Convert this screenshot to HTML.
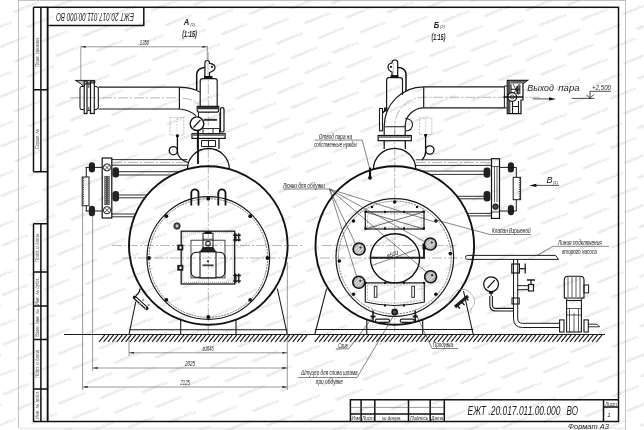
<!DOCTYPE html>
<html><head><meta charset="utf-8">
<style>
html,body{margin:0;padding:0;background:#fff;width:644px;height:430px;overflow:hidden}
svg{display:block;will-change:transform}
#wm text{fill:#d0d0d0;font-style:normal}
.lt text{fill:#555}
.k{fill:none;stroke:#111;stroke-width:1.5}
.m{fill:none;stroke:#1a1a1a;stroke-width:1}
.t{fill:none;stroke:#555;stroke-width:0.6}
.g{fill:none;stroke:#999;stroke-width:0.6}
.c{fill:none;stroke:#888;stroke-width:0.6;stroke-dasharray:10 2 2 2}
.d{fill:none;stroke:#777;stroke-width:0.8;stroke-dasharray:2 1.2}
text{font-family:"Liberation Sans",sans-serif;font-style:italic;fill:#222}
</style></head><body>
<svg width="644" height="430" viewBox="0 0 644 430">
<rect width="644" height="430" fill="#fff"/>
<g id="wm" font-size="4.4">
<text transform="translate(-10.9,410.5) rotate(-22)" text-anchor="middle" textLength="28" lengthAdjust="spacingAndGlyphs">teploobmennik-ka.ru</text>
<text transform="translate(3.1,425.2) rotate(-22)" text-anchor="middle" textLength="28" lengthAdjust="spacingAndGlyphs">teploobmennik-ka.ru</text>
<text transform="translate(17.1,439.9) rotate(-22)" text-anchor="middle" textLength="28" lengthAdjust="spacingAndGlyphs">teploobmennik-ka.ru</text>
<text transform="translate(-11.4,360.9) rotate(-22)" text-anchor="middle" textLength="28" lengthAdjust="spacingAndGlyphs">teploobmennik-ka.ru</text>
<text transform="translate(2.6,375.6) rotate(-22)" text-anchor="middle" textLength="28" lengthAdjust="spacingAndGlyphs">teploobmennik-ka.ru</text>
<text transform="translate(16.6,390.3) rotate(-22)" text-anchor="middle" textLength="28" lengthAdjust="spacingAndGlyphs">teploobmennik-ka.ru</text>
<text transform="translate(30.6,405.0) rotate(-22)" text-anchor="middle" textLength="28" lengthAdjust="spacingAndGlyphs">teploobmennik-ka.ru</text>
<text transform="translate(44.6,419.7) rotate(-22)" text-anchor="middle" textLength="28" lengthAdjust="spacingAndGlyphs">teploobmennik-ka.ru</text>
<text transform="translate(58.6,434.4) rotate(-22)" text-anchor="middle" textLength="28" lengthAdjust="spacingAndGlyphs">teploobmennik-ka.ru</text>
<text transform="translate(-11.9,311.3) rotate(-22)" text-anchor="middle" textLength="28" lengthAdjust="spacingAndGlyphs">teploobmennik-ka.ru</text>
<text transform="translate(2.1,326.0) rotate(-22)" text-anchor="middle" textLength="28" lengthAdjust="spacingAndGlyphs">teploobmennik-ka.ru</text>
<text transform="translate(16.1,340.7) rotate(-22)" text-anchor="middle" textLength="28" lengthAdjust="spacingAndGlyphs">teploobmennik-ka.ru</text>
<text transform="translate(30.1,355.4) rotate(-22)" text-anchor="middle" textLength="28" lengthAdjust="spacingAndGlyphs">teploobmennik-ka.ru</text>
<text transform="translate(44.1,370.1) rotate(-22)" text-anchor="middle" textLength="28" lengthAdjust="spacingAndGlyphs">teploobmennik-ka.ru</text>
<text transform="translate(58.1,384.8) rotate(-22)" text-anchor="middle" textLength="28" lengthAdjust="spacingAndGlyphs">teploobmennik-ka.ru</text>
<text transform="translate(72.1,399.5) rotate(-22)" text-anchor="middle" textLength="28" lengthAdjust="spacingAndGlyphs">teploobmennik-ka.ru</text>
<text transform="translate(86.1,414.2) rotate(-22)" text-anchor="middle" textLength="28" lengthAdjust="spacingAndGlyphs">teploobmennik-ka.ru</text>
<text transform="translate(100.1,428.9) rotate(-22)" text-anchor="middle" textLength="28" lengthAdjust="spacingAndGlyphs">teploobmennik-ka.ru</text>
<text transform="translate(-12.4,261.7) rotate(-22)" text-anchor="middle" textLength="28" lengthAdjust="spacingAndGlyphs">teploobmennik-ka.ru</text>
<text transform="translate(1.6,276.4) rotate(-22)" text-anchor="middle" textLength="28" lengthAdjust="spacingAndGlyphs">teploobmennik-ka.ru</text>
<text transform="translate(15.6,291.1) rotate(-22)" text-anchor="middle" textLength="28" lengthAdjust="spacingAndGlyphs">teploobmennik-ka.ru</text>
<text transform="translate(29.6,305.8) rotate(-22)" text-anchor="middle" textLength="28" lengthAdjust="spacingAndGlyphs">teploobmennik-ka.ru</text>
<text transform="translate(43.6,320.5) rotate(-22)" text-anchor="middle" textLength="28" lengthAdjust="spacingAndGlyphs">teploobmennik-ka.ru</text>
<text transform="translate(57.6,335.2) rotate(-22)" text-anchor="middle" textLength="28" lengthAdjust="spacingAndGlyphs">teploobmennik-ka.ru</text>
<text transform="translate(71.6,349.9) rotate(-22)" text-anchor="middle" textLength="28" lengthAdjust="spacingAndGlyphs">teploobmennik-ka.ru</text>
<text transform="translate(85.6,364.6) rotate(-22)" text-anchor="middle" textLength="28" lengthAdjust="spacingAndGlyphs">teploobmennik-ka.ru</text>
<text transform="translate(99.6,379.3) rotate(-22)" text-anchor="middle" textLength="28" lengthAdjust="spacingAndGlyphs">teploobmennik-ka.ru</text>
<text transform="translate(113.6,394.0) rotate(-22)" text-anchor="middle" textLength="28" lengthAdjust="spacingAndGlyphs">teploobmennik-ka.ru</text>
<text transform="translate(127.6,408.7) rotate(-22)" text-anchor="middle" textLength="28" lengthAdjust="spacingAndGlyphs">teploobmennik-ka.ru</text>
<text transform="translate(141.6,423.4) rotate(-22)" text-anchor="middle" textLength="28" lengthAdjust="spacingAndGlyphs">teploobmennik-ka.ru</text>
<text transform="translate(155.6,438.1) rotate(-22)" text-anchor="middle" textLength="28" lengthAdjust="spacingAndGlyphs">teploobmennik-ka.ru</text>
<text transform="translate(-12.9,212.1) rotate(-22)" text-anchor="middle" textLength="28" lengthAdjust="spacingAndGlyphs">teploobmennik-ka.ru</text>
<text transform="translate(1.1,226.8) rotate(-22)" text-anchor="middle" textLength="28" lengthAdjust="spacingAndGlyphs">teploobmennik-ka.ru</text>
<text transform="translate(15.1,241.5) rotate(-22)" text-anchor="middle" textLength="28" lengthAdjust="spacingAndGlyphs">teploobmennik-ka.ru</text>
<text transform="translate(29.1,256.2) rotate(-22)" text-anchor="middle" textLength="28" lengthAdjust="spacingAndGlyphs">teploobmennik-ka.ru</text>
<text transform="translate(43.1,270.9) rotate(-22)" text-anchor="middle" textLength="28" lengthAdjust="spacingAndGlyphs">teploobmennik-ka.ru</text>
<text transform="translate(57.1,285.6) rotate(-22)" text-anchor="middle" textLength="28" lengthAdjust="spacingAndGlyphs">teploobmennik-ka.ru</text>
<text transform="translate(71.1,300.3) rotate(-22)" text-anchor="middle" textLength="28" lengthAdjust="spacingAndGlyphs">teploobmennik-ka.ru</text>
<text transform="translate(85.1,315.0) rotate(-22)" text-anchor="middle" textLength="28" lengthAdjust="spacingAndGlyphs">teploobmennik-ka.ru</text>
<text transform="translate(99.1,329.7) rotate(-22)" text-anchor="middle" textLength="28" lengthAdjust="spacingAndGlyphs">teploobmennik-ka.ru</text>
<text transform="translate(113.1,344.4) rotate(-22)" text-anchor="middle" textLength="28" lengthAdjust="spacingAndGlyphs">teploobmennik-ka.ru</text>
<text transform="translate(127.1,359.1) rotate(-22)" text-anchor="middle" textLength="28" lengthAdjust="spacingAndGlyphs">teploobmennik-ka.ru</text>
<text transform="translate(141.1,373.8) rotate(-22)" text-anchor="middle" textLength="28" lengthAdjust="spacingAndGlyphs">teploobmennik-ka.ru</text>
<text transform="translate(155.1,388.5) rotate(-22)" text-anchor="middle" textLength="28" lengthAdjust="spacingAndGlyphs">teploobmennik-ka.ru</text>
<text transform="translate(169.1,403.2) rotate(-22)" text-anchor="middle" textLength="28" lengthAdjust="spacingAndGlyphs">teploobmennik-ka.ru</text>
<text transform="translate(183.1,417.9) rotate(-22)" text-anchor="middle" textLength="28" lengthAdjust="spacingAndGlyphs">teploobmennik-ka.ru</text>
<text transform="translate(197.1,432.6) rotate(-22)" text-anchor="middle" textLength="28" lengthAdjust="spacingAndGlyphs">teploobmennik-ka.ru</text>
<text transform="translate(-13.4,162.5) rotate(-22)" text-anchor="middle" textLength="28" lengthAdjust="spacingAndGlyphs">teploobmennik-ka.ru</text>
<text transform="translate(0.6,177.2) rotate(-22)" text-anchor="middle" textLength="28" lengthAdjust="spacingAndGlyphs">teploobmennik-ka.ru</text>
<text transform="translate(14.6,191.9) rotate(-22)" text-anchor="middle" textLength="28" lengthAdjust="spacingAndGlyphs">teploobmennik-ka.ru</text>
<text transform="translate(28.6,206.6) rotate(-22)" text-anchor="middle" textLength="28" lengthAdjust="spacingAndGlyphs">teploobmennik-ka.ru</text>
<text transform="translate(42.6,221.3) rotate(-22)" text-anchor="middle" textLength="28" lengthAdjust="spacingAndGlyphs">teploobmennik-ka.ru</text>
<text transform="translate(56.6,236.0) rotate(-22)" text-anchor="middle" textLength="28" lengthAdjust="spacingAndGlyphs">teploobmennik-ka.ru</text>
<text transform="translate(70.6,250.7) rotate(-22)" text-anchor="middle" textLength="28" lengthAdjust="spacingAndGlyphs">teploobmennik-ka.ru</text>
<text transform="translate(84.6,265.4) rotate(-22)" text-anchor="middle" textLength="28" lengthAdjust="spacingAndGlyphs">teploobmennik-ka.ru</text>
<text transform="translate(98.6,280.1) rotate(-22)" text-anchor="middle" textLength="28" lengthAdjust="spacingAndGlyphs">teploobmennik-ka.ru</text>
<text transform="translate(112.6,294.8) rotate(-22)" text-anchor="middle" textLength="28" lengthAdjust="spacingAndGlyphs">teploobmennik-ka.ru</text>
<text transform="translate(126.6,309.5) rotate(-22)" text-anchor="middle" textLength="28" lengthAdjust="spacingAndGlyphs">teploobmennik-ka.ru</text>
<text transform="translate(140.6,324.2) rotate(-22)" text-anchor="middle" textLength="28" lengthAdjust="spacingAndGlyphs">teploobmennik-ka.ru</text>
<text transform="translate(154.6,338.9) rotate(-22)" text-anchor="middle" textLength="28" lengthAdjust="spacingAndGlyphs">teploobmennik-ka.ru</text>
<text transform="translate(168.6,353.6) rotate(-22)" text-anchor="middle" textLength="28" lengthAdjust="spacingAndGlyphs">teploobmennik-ka.ru</text>
<text transform="translate(182.6,368.3) rotate(-22)" text-anchor="middle" textLength="28" lengthAdjust="spacingAndGlyphs">teploobmennik-ka.ru</text>
<text transform="translate(196.6,383.0) rotate(-22)" text-anchor="middle" textLength="28" lengthAdjust="spacingAndGlyphs">teploobmennik-ka.ru</text>
<text transform="translate(210.6,397.7) rotate(-22)" text-anchor="middle" textLength="28" lengthAdjust="spacingAndGlyphs">teploobmennik-ka.ru</text>
<text transform="translate(224.6,412.4) rotate(-22)" text-anchor="middle" textLength="28" lengthAdjust="spacingAndGlyphs">teploobmennik-ka.ru</text>
<text transform="translate(238.6,427.1) rotate(-22)" text-anchor="middle" textLength="28" lengthAdjust="spacingAndGlyphs">teploobmennik-ka.ru</text>
<text transform="translate(-13.9,112.9) rotate(-22)" text-anchor="middle" textLength="28" lengthAdjust="spacingAndGlyphs">teploobmennik-ka.ru</text>
<text transform="translate(0.1,127.6) rotate(-22)" text-anchor="middle" textLength="28" lengthAdjust="spacingAndGlyphs">teploobmennik-ka.ru</text>
<text transform="translate(14.1,142.3) rotate(-22)" text-anchor="middle" textLength="28" lengthAdjust="spacingAndGlyphs">teploobmennik-ka.ru</text>
<text transform="translate(28.1,157.0) rotate(-22)" text-anchor="middle" textLength="28" lengthAdjust="spacingAndGlyphs">teploobmennik-ka.ru</text>
<text transform="translate(42.1,171.7) rotate(-22)" text-anchor="middle" textLength="28" lengthAdjust="spacingAndGlyphs">teploobmennik-ka.ru</text>
<text transform="translate(56.1,186.4) rotate(-22)" text-anchor="middle" textLength="28" lengthAdjust="spacingAndGlyphs">teploobmennik-ka.ru</text>
<text transform="translate(70.1,201.1) rotate(-22)" text-anchor="middle" textLength="28" lengthAdjust="spacingAndGlyphs">teploobmennik-ka.ru</text>
<text transform="translate(84.1,215.8) rotate(-22)" text-anchor="middle" textLength="28" lengthAdjust="spacingAndGlyphs">teploobmennik-ka.ru</text>
<text transform="translate(98.1,230.5) rotate(-22)" text-anchor="middle" textLength="28" lengthAdjust="spacingAndGlyphs">teploobmennik-ka.ru</text>
<text transform="translate(112.1,245.2) rotate(-22)" text-anchor="middle" textLength="28" lengthAdjust="spacingAndGlyphs">teploobmennik-ka.ru</text>
<text transform="translate(126.1,259.9) rotate(-22)" text-anchor="middle" textLength="28" lengthAdjust="spacingAndGlyphs">teploobmennik-ka.ru</text>
<text transform="translate(140.1,274.6) rotate(-22)" text-anchor="middle" textLength="28" lengthAdjust="spacingAndGlyphs">teploobmennik-ka.ru</text>
<text transform="translate(154.1,289.3) rotate(-22)" text-anchor="middle" textLength="28" lengthAdjust="spacingAndGlyphs">teploobmennik-ka.ru</text>
<text transform="translate(168.1,304.0) rotate(-22)" text-anchor="middle" textLength="28" lengthAdjust="spacingAndGlyphs">teploobmennik-ka.ru</text>
<text transform="translate(182.1,318.7) rotate(-22)" text-anchor="middle" textLength="28" lengthAdjust="spacingAndGlyphs">teploobmennik-ka.ru</text>
<text transform="translate(196.1,333.4) rotate(-22)" text-anchor="middle" textLength="28" lengthAdjust="spacingAndGlyphs">teploobmennik-ka.ru</text>
<text transform="translate(210.1,348.1) rotate(-22)" text-anchor="middle" textLength="28" lengthAdjust="spacingAndGlyphs">teploobmennik-ka.ru</text>
<text transform="translate(224.1,362.8) rotate(-22)" text-anchor="middle" textLength="28" lengthAdjust="spacingAndGlyphs">teploobmennik-ka.ru</text>
<text transform="translate(238.1,377.5) rotate(-22)" text-anchor="middle" textLength="28" lengthAdjust="spacingAndGlyphs">teploobmennik-ka.ru</text>
<text transform="translate(252.1,392.2) rotate(-22)" text-anchor="middle" textLength="28" lengthAdjust="spacingAndGlyphs">teploobmennik-ka.ru</text>
<text transform="translate(266.1,406.9) rotate(-22)" text-anchor="middle" textLength="28" lengthAdjust="spacingAndGlyphs">teploobmennik-ka.ru</text>
<text transform="translate(280.1,421.6) rotate(-22)" text-anchor="middle" textLength="28" lengthAdjust="spacingAndGlyphs">teploobmennik-ka.ru</text>
<text transform="translate(294.1,436.3) rotate(-22)" text-anchor="middle" textLength="28" lengthAdjust="spacingAndGlyphs">teploobmennik-ka.ru</text>
<text transform="translate(-14.4,63.3) rotate(-22)" text-anchor="middle" textLength="28" lengthAdjust="spacingAndGlyphs">teploobmennik-ka.ru</text>
<text transform="translate(-0.4,78.0) rotate(-22)" text-anchor="middle" textLength="28" lengthAdjust="spacingAndGlyphs">teploobmennik-ka.ru</text>
<text transform="translate(13.6,92.7) rotate(-22)" text-anchor="middle" textLength="28" lengthAdjust="spacingAndGlyphs">teploobmennik-ka.ru</text>
<text transform="translate(27.6,107.4) rotate(-22)" text-anchor="middle" textLength="28" lengthAdjust="spacingAndGlyphs">teploobmennik-ka.ru</text>
<text transform="translate(41.6,122.1) rotate(-22)" text-anchor="middle" textLength="28" lengthAdjust="spacingAndGlyphs">teploobmennik-ka.ru</text>
<text transform="translate(55.6,136.8) rotate(-22)" text-anchor="middle" textLength="28" lengthAdjust="spacingAndGlyphs">teploobmennik-ka.ru</text>
<text transform="translate(69.6,151.5) rotate(-22)" text-anchor="middle" textLength="28" lengthAdjust="spacingAndGlyphs">teploobmennik-ka.ru</text>
<text transform="translate(83.6,166.2) rotate(-22)" text-anchor="middle" textLength="28" lengthAdjust="spacingAndGlyphs">teploobmennik-ka.ru</text>
<text transform="translate(97.6,180.9) rotate(-22)" text-anchor="middle" textLength="28" lengthAdjust="spacingAndGlyphs">teploobmennik-ka.ru</text>
<text transform="translate(111.6,195.6) rotate(-22)" text-anchor="middle" textLength="28" lengthAdjust="spacingAndGlyphs">teploobmennik-ka.ru</text>
<text transform="translate(125.6,210.3) rotate(-22)" text-anchor="middle" textLength="28" lengthAdjust="spacingAndGlyphs">teploobmennik-ka.ru</text>
<text transform="translate(139.6,225.0) rotate(-22)" text-anchor="middle" textLength="28" lengthAdjust="spacingAndGlyphs">teploobmennik-ka.ru</text>
<text transform="translate(153.6,239.7) rotate(-22)" text-anchor="middle" textLength="28" lengthAdjust="spacingAndGlyphs">teploobmennik-ka.ru</text>
<text transform="translate(167.6,254.4) rotate(-22)" text-anchor="middle" textLength="28" lengthAdjust="spacingAndGlyphs">teploobmennik-ka.ru</text>
<text transform="translate(181.6,269.1) rotate(-22)" text-anchor="middle" textLength="28" lengthAdjust="spacingAndGlyphs">teploobmennik-ka.ru</text>
<text transform="translate(195.6,283.8) rotate(-22)" text-anchor="middle" textLength="28" lengthAdjust="spacingAndGlyphs">teploobmennik-ka.ru</text>
<text transform="translate(209.6,298.5) rotate(-22)" text-anchor="middle" textLength="28" lengthAdjust="spacingAndGlyphs">teploobmennik-ka.ru</text>
<text transform="translate(223.6,313.2) rotate(-22)" text-anchor="middle" textLength="28" lengthAdjust="spacingAndGlyphs">teploobmennik-ka.ru</text>
<text transform="translate(237.6,327.9) rotate(-22)" text-anchor="middle" textLength="28" lengthAdjust="spacingAndGlyphs">teploobmennik-ka.ru</text>
<text transform="translate(251.6,342.6) rotate(-22)" text-anchor="middle" textLength="28" lengthAdjust="spacingAndGlyphs">teploobmennik-ka.ru</text>
<text transform="translate(265.6,357.3) rotate(-22)" text-anchor="middle" textLength="28" lengthAdjust="spacingAndGlyphs">teploobmennik-ka.ru</text>
<text transform="translate(279.6,372.0) rotate(-22)" text-anchor="middle" textLength="28" lengthAdjust="spacingAndGlyphs">teploobmennik-ka.ru</text>
<text transform="translate(293.6,386.7) rotate(-22)" text-anchor="middle" textLength="28" lengthAdjust="spacingAndGlyphs">teploobmennik-ka.ru</text>
<text transform="translate(307.6,401.4) rotate(-22)" text-anchor="middle" textLength="28" lengthAdjust="spacingAndGlyphs">teploobmennik-ka.ru</text>
<text transform="translate(321.6,416.1) rotate(-22)" text-anchor="middle" textLength="28" lengthAdjust="spacingAndGlyphs">teploobmennik-ka.ru</text>
<text transform="translate(335.6,430.8) rotate(-22)" text-anchor="middle" textLength="28" lengthAdjust="spacingAndGlyphs">teploobmennik-ka.ru</text>
<text transform="translate(-14.9,13.7) rotate(-22)" text-anchor="middle" textLength="28" lengthAdjust="spacingAndGlyphs">teploobmennik-ka.ru</text>
<text transform="translate(-0.9,28.4) rotate(-22)" text-anchor="middle" textLength="28" lengthAdjust="spacingAndGlyphs">teploobmennik-ka.ru</text>
<text transform="translate(13.1,43.1) rotate(-22)" text-anchor="middle" textLength="28" lengthAdjust="spacingAndGlyphs">teploobmennik-ka.ru</text>
<text transform="translate(27.1,57.8) rotate(-22)" text-anchor="middle" textLength="28" lengthAdjust="spacingAndGlyphs">teploobmennik-ka.ru</text>
<text transform="translate(41.1,72.5) rotate(-22)" text-anchor="middle" textLength="28" lengthAdjust="spacingAndGlyphs">teploobmennik-ka.ru</text>
<text transform="translate(55.1,87.2) rotate(-22)" text-anchor="middle" textLength="28" lengthAdjust="spacingAndGlyphs">teploobmennik-ka.ru</text>
<text transform="translate(69.1,101.9) rotate(-22)" text-anchor="middle" textLength="28" lengthAdjust="spacingAndGlyphs">teploobmennik-ka.ru</text>
<text transform="translate(83.1,116.6) rotate(-22)" text-anchor="middle" textLength="28" lengthAdjust="spacingAndGlyphs">teploobmennik-ka.ru</text>
<text transform="translate(97.1,131.3) rotate(-22)" text-anchor="middle" textLength="28" lengthAdjust="spacingAndGlyphs">teploobmennik-ka.ru</text>
<text transform="translate(111.1,146.0) rotate(-22)" text-anchor="middle" textLength="28" lengthAdjust="spacingAndGlyphs">teploobmennik-ka.ru</text>
<text transform="translate(125.1,160.7) rotate(-22)" text-anchor="middle" textLength="28" lengthAdjust="spacingAndGlyphs">teploobmennik-ka.ru</text>
<text transform="translate(139.1,175.4) rotate(-22)" text-anchor="middle" textLength="28" lengthAdjust="spacingAndGlyphs">teploobmennik-ka.ru</text>
<text transform="translate(153.1,190.1) rotate(-22)" text-anchor="middle" textLength="28" lengthAdjust="spacingAndGlyphs">teploobmennik-ka.ru</text>
<text transform="translate(167.1,204.8) rotate(-22)" text-anchor="middle" textLength="28" lengthAdjust="spacingAndGlyphs">teploobmennik-ka.ru</text>
<text transform="translate(181.1,219.5) rotate(-22)" text-anchor="middle" textLength="28" lengthAdjust="spacingAndGlyphs">teploobmennik-ka.ru</text>
<text transform="translate(195.1,234.2) rotate(-22)" text-anchor="middle" textLength="28" lengthAdjust="spacingAndGlyphs">teploobmennik-ka.ru</text>
<text transform="translate(209.1,248.9) rotate(-22)" text-anchor="middle" textLength="28" lengthAdjust="spacingAndGlyphs">teploobmennik-ka.ru</text>
<text transform="translate(223.1,263.6) rotate(-22)" text-anchor="middle" textLength="28" lengthAdjust="spacingAndGlyphs">teploobmennik-ka.ru</text>
<text transform="translate(237.1,278.3) rotate(-22)" text-anchor="middle" textLength="28" lengthAdjust="spacingAndGlyphs">teploobmennik-ka.ru</text>
<text transform="translate(251.1,293.0) rotate(-22)" text-anchor="middle" textLength="28" lengthAdjust="spacingAndGlyphs">teploobmennik-ka.ru</text>
<text transform="translate(265.1,307.7) rotate(-22)" text-anchor="middle" textLength="28" lengthAdjust="spacingAndGlyphs">teploobmennik-ka.ru</text>
<text transform="translate(279.1,322.4) rotate(-22)" text-anchor="middle" textLength="28" lengthAdjust="spacingAndGlyphs">teploobmennik-ka.ru</text>
<text transform="translate(293.1,337.1) rotate(-22)" text-anchor="middle" textLength="28" lengthAdjust="spacingAndGlyphs">teploobmennik-ka.ru</text>
<text transform="translate(307.1,351.8) rotate(-22)" text-anchor="middle" textLength="28" lengthAdjust="spacingAndGlyphs">teploobmennik-ka.ru</text>
<text transform="translate(321.1,366.5) rotate(-22)" text-anchor="middle" textLength="28" lengthAdjust="spacingAndGlyphs">teploobmennik-ka.ru</text>
<text transform="translate(335.1,381.2) rotate(-22)" text-anchor="middle" textLength="28" lengthAdjust="spacingAndGlyphs">teploobmennik-ka.ru</text>
<text transform="translate(349.1,395.9) rotate(-22)" text-anchor="middle" textLength="28" lengthAdjust="spacingAndGlyphs">teploobmennik-ka.ru</text>
<text transform="translate(363.1,410.6) rotate(-22)" text-anchor="middle" textLength="28" lengthAdjust="spacingAndGlyphs">teploobmennik-ka.ru</text>
<text transform="translate(377.1,425.3) rotate(-22)" text-anchor="middle" textLength="28" lengthAdjust="spacingAndGlyphs">teploobmennik-ka.ru</text>
<text transform="translate(391.1,440.0) rotate(-22)" text-anchor="middle" textLength="28" lengthAdjust="spacingAndGlyphs">teploobmennik-ka.ru</text>
<text transform="translate(12.6,-6.5) rotate(-22)" text-anchor="middle" textLength="28" lengthAdjust="spacingAndGlyphs">teploobmennik-ka.ru</text>
<text transform="translate(26.6,8.2) rotate(-22)" text-anchor="middle" textLength="28" lengthAdjust="spacingAndGlyphs">teploobmennik-ka.ru</text>
<text transform="translate(40.6,22.9) rotate(-22)" text-anchor="middle" textLength="28" lengthAdjust="spacingAndGlyphs">teploobmennik-ka.ru</text>
<text transform="translate(54.6,37.6) rotate(-22)" text-anchor="middle" textLength="28" lengthAdjust="spacingAndGlyphs">teploobmennik-ka.ru</text>
<text transform="translate(68.6,52.3) rotate(-22)" text-anchor="middle" textLength="28" lengthAdjust="spacingAndGlyphs">teploobmennik-ka.ru</text>
<text transform="translate(82.6,67.0) rotate(-22)" text-anchor="middle" textLength="28" lengthAdjust="spacingAndGlyphs">teploobmennik-ka.ru</text>
<text transform="translate(96.6,81.7) rotate(-22)" text-anchor="middle" textLength="28" lengthAdjust="spacingAndGlyphs">teploobmennik-ka.ru</text>
<text transform="translate(110.6,96.4) rotate(-22)" text-anchor="middle" textLength="28" lengthAdjust="spacingAndGlyphs">teploobmennik-ka.ru</text>
<text transform="translate(124.6,111.1) rotate(-22)" text-anchor="middle" textLength="28" lengthAdjust="spacingAndGlyphs">teploobmennik-ka.ru</text>
<text transform="translate(138.6,125.8) rotate(-22)" text-anchor="middle" textLength="28" lengthAdjust="spacingAndGlyphs">teploobmennik-ka.ru</text>
<text transform="translate(152.6,140.5) rotate(-22)" text-anchor="middle" textLength="28" lengthAdjust="spacingAndGlyphs">teploobmennik-ka.ru</text>
<text transform="translate(166.6,155.2) rotate(-22)" text-anchor="middle" textLength="28" lengthAdjust="spacingAndGlyphs">teploobmennik-ka.ru</text>
<text transform="translate(180.6,169.9) rotate(-22)" text-anchor="middle" textLength="28" lengthAdjust="spacingAndGlyphs">teploobmennik-ka.ru</text>
<text transform="translate(194.6,184.6) rotate(-22)" text-anchor="middle" textLength="28" lengthAdjust="spacingAndGlyphs">teploobmennik-ka.ru</text>
<text transform="translate(208.6,199.3) rotate(-22)" text-anchor="middle" textLength="28" lengthAdjust="spacingAndGlyphs">teploobmennik-ka.ru</text>
<text transform="translate(222.6,214.0) rotate(-22)" text-anchor="middle" textLength="28" lengthAdjust="spacingAndGlyphs">teploobmennik-ka.ru</text>
<text transform="translate(236.6,228.7) rotate(-22)" text-anchor="middle" textLength="28" lengthAdjust="spacingAndGlyphs">teploobmennik-ka.ru</text>
<text transform="translate(250.6,243.4) rotate(-22)" text-anchor="middle" textLength="28" lengthAdjust="spacingAndGlyphs">teploobmennik-ka.ru</text>
<text transform="translate(264.6,258.1) rotate(-22)" text-anchor="middle" textLength="28" lengthAdjust="spacingAndGlyphs">teploobmennik-ka.ru</text>
<text transform="translate(278.6,272.8) rotate(-22)" text-anchor="middle" textLength="28" lengthAdjust="spacingAndGlyphs">teploobmennik-ka.ru</text>
<text transform="translate(292.6,287.5) rotate(-22)" text-anchor="middle" textLength="28" lengthAdjust="spacingAndGlyphs">teploobmennik-ka.ru</text>
<text transform="translate(306.6,302.2) rotate(-22)" text-anchor="middle" textLength="28" lengthAdjust="spacingAndGlyphs">teploobmennik-ka.ru</text>
<text transform="translate(320.6,316.9) rotate(-22)" text-anchor="middle" textLength="28" lengthAdjust="spacingAndGlyphs">teploobmennik-ka.ru</text>
<text transform="translate(334.6,331.6) rotate(-22)" text-anchor="middle" textLength="28" lengthAdjust="spacingAndGlyphs">teploobmennik-ka.ru</text>
<text transform="translate(348.6,346.3) rotate(-22)" text-anchor="middle" textLength="28" lengthAdjust="spacingAndGlyphs">teploobmennik-ka.ru</text>
<text transform="translate(362.6,361.0) rotate(-22)" text-anchor="middle" textLength="28" lengthAdjust="spacingAndGlyphs">teploobmennik-ka.ru</text>
<text transform="translate(376.6,375.7) rotate(-22)" text-anchor="middle" textLength="28" lengthAdjust="spacingAndGlyphs">teploobmennik-ka.ru</text>
<text transform="translate(390.6,390.4) rotate(-22)" text-anchor="middle" textLength="28" lengthAdjust="spacingAndGlyphs">teploobmennik-ka.ru</text>
<text transform="translate(404.6,405.1) rotate(-22)" text-anchor="middle" textLength="28" lengthAdjust="spacingAndGlyphs">teploobmennik-ka.ru</text>
<text transform="translate(418.6,419.8) rotate(-22)" text-anchor="middle" textLength="28" lengthAdjust="spacingAndGlyphs">teploobmennik-ka.ru</text>
<text transform="translate(432.6,434.5) rotate(-22)" text-anchor="middle" textLength="28" lengthAdjust="spacingAndGlyphs">teploobmennik-ka.ru</text>
<text transform="translate(68.1,2.7) rotate(-22)" text-anchor="middle" textLength="28" lengthAdjust="spacingAndGlyphs">teploobmennik-ka.ru</text>
<text transform="translate(82.1,17.4) rotate(-22)" text-anchor="middle" textLength="28" lengthAdjust="spacingAndGlyphs">teploobmennik-ka.ru</text>
<text transform="translate(96.1,32.1) rotate(-22)" text-anchor="middle" textLength="28" lengthAdjust="spacingAndGlyphs">teploobmennik-ka.ru</text>
<text transform="translate(110.1,46.8) rotate(-22)" text-anchor="middle" textLength="28" lengthAdjust="spacingAndGlyphs">teploobmennik-ka.ru</text>
<text transform="translate(124.1,61.5) rotate(-22)" text-anchor="middle" textLength="28" lengthAdjust="spacingAndGlyphs">teploobmennik-ka.ru</text>
<text transform="translate(138.1,76.2) rotate(-22)" text-anchor="middle" textLength="28" lengthAdjust="spacingAndGlyphs">teploobmennik-ka.ru</text>
<text transform="translate(152.1,90.9) rotate(-22)" text-anchor="middle" textLength="28" lengthAdjust="spacingAndGlyphs">teploobmennik-ka.ru</text>
<text transform="translate(166.1,105.6) rotate(-22)" text-anchor="middle" textLength="28" lengthAdjust="spacingAndGlyphs">teploobmennik-ka.ru</text>
<text transform="translate(180.1,120.3) rotate(-22)" text-anchor="middle" textLength="28" lengthAdjust="spacingAndGlyphs">teploobmennik-ka.ru</text>
<text transform="translate(194.1,135.0) rotate(-22)" text-anchor="middle" textLength="28" lengthAdjust="spacingAndGlyphs">teploobmennik-ka.ru</text>
<text transform="translate(208.1,149.7) rotate(-22)" text-anchor="middle" textLength="28" lengthAdjust="spacingAndGlyphs">teploobmennik-ka.ru</text>
<text transform="translate(222.1,164.4) rotate(-22)" text-anchor="middle" textLength="28" lengthAdjust="spacingAndGlyphs">teploobmennik-ka.ru</text>
<text transform="translate(236.1,179.1) rotate(-22)" text-anchor="middle" textLength="28" lengthAdjust="spacingAndGlyphs">teploobmennik-ka.ru</text>
<text transform="translate(250.1,193.8) rotate(-22)" text-anchor="middle" textLength="28" lengthAdjust="spacingAndGlyphs">teploobmennik-ka.ru</text>
<text transform="translate(264.1,208.5) rotate(-22)" text-anchor="middle" textLength="28" lengthAdjust="spacingAndGlyphs">teploobmennik-ka.ru</text>
<text transform="translate(278.1,223.2) rotate(-22)" text-anchor="middle" textLength="28" lengthAdjust="spacingAndGlyphs">teploobmennik-ka.ru</text>
<text transform="translate(292.1,237.9) rotate(-22)" text-anchor="middle" textLength="28" lengthAdjust="spacingAndGlyphs">teploobmennik-ka.ru</text>
<text transform="translate(306.1,252.6) rotate(-22)" text-anchor="middle" textLength="28" lengthAdjust="spacingAndGlyphs">teploobmennik-ka.ru</text>
<text transform="translate(320.1,267.3) rotate(-22)" text-anchor="middle" textLength="28" lengthAdjust="spacingAndGlyphs">teploobmennik-ka.ru</text>
<text transform="translate(334.1,282.0) rotate(-22)" text-anchor="middle" textLength="28" lengthAdjust="spacingAndGlyphs">teploobmennik-ka.ru</text>
<text transform="translate(348.1,296.7) rotate(-22)" text-anchor="middle" textLength="28" lengthAdjust="spacingAndGlyphs">teploobmennik-ka.ru</text>
<text transform="translate(362.1,311.4) rotate(-22)" text-anchor="middle" textLength="28" lengthAdjust="spacingAndGlyphs">teploobmennik-ka.ru</text>
<text transform="translate(376.1,326.1) rotate(-22)" text-anchor="middle" textLength="28" lengthAdjust="spacingAndGlyphs">teploobmennik-ka.ru</text>
<text transform="translate(390.1,340.8) rotate(-22)" text-anchor="middle" textLength="28" lengthAdjust="spacingAndGlyphs">teploobmennik-ka.ru</text>
<text transform="translate(404.1,355.5) rotate(-22)" text-anchor="middle" textLength="28" lengthAdjust="spacingAndGlyphs">teploobmennik-ka.ru</text>
<text transform="translate(418.1,370.2) rotate(-22)" text-anchor="middle" textLength="28" lengthAdjust="spacingAndGlyphs">teploobmennik-ka.ru</text>
<text transform="translate(432.1,384.9) rotate(-22)" text-anchor="middle" textLength="28" lengthAdjust="spacingAndGlyphs">teploobmennik-ka.ru</text>
<text transform="translate(446.1,399.6) rotate(-22)" text-anchor="middle" textLength="28" lengthAdjust="spacingAndGlyphs">teploobmennik-ka.ru</text>
<text transform="translate(460.1,414.3) rotate(-22)" text-anchor="middle" textLength="28" lengthAdjust="spacingAndGlyphs">teploobmennik-ka.ru</text>
<text transform="translate(474.1,429.0) rotate(-22)" text-anchor="middle" textLength="28" lengthAdjust="spacingAndGlyphs">teploobmennik-ka.ru</text>
<text transform="translate(109.6,-2.8) rotate(-22)" text-anchor="middle" textLength="28" lengthAdjust="spacingAndGlyphs">teploobmennik-ka.ru</text>
<text transform="translate(123.6,11.9) rotate(-22)" text-anchor="middle" textLength="28" lengthAdjust="spacingAndGlyphs">teploobmennik-ka.ru</text>
<text transform="translate(137.6,26.6) rotate(-22)" text-anchor="middle" textLength="28" lengthAdjust="spacingAndGlyphs">teploobmennik-ka.ru</text>
<text transform="translate(151.6,41.3) rotate(-22)" text-anchor="middle" textLength="28" lengthAdjust="spacingAndGlyphs">teploobmennik-ka.ru</text>
<text transform="translate(165.6,56.0) rotate(-22)" text-anchor="middle" textLength="28" lengthAdjust="spacingAndGlyphs">teploobmennik-ka.ru</text>
<text transform="translate(179.6,70.7) rotate(-22)" text-anchor="middle" textLength="28" lengthAdjust="spacingAndGlyphs">teploobmennik-ka.ru</text>
<text transform="translate(193.6,85.4) rotate(-22)" text-anchor="middle" textLength="28" lengthAdjust="spacingAndGlyphs">teploobmennik-ka.ru</text>
<text transform="translate(207.6,100.1) rotate(-22)" text-anchor="middle" textLength="28" lengthAdjust="spacingAndGlyphs">teploobmennik-ka.ru</text>
<text transform="translate(221.6,114.8) rotate(-22)" text-anchor="middle" textLength="28" lengthAdjust="spacingAndGlyphs">teploobmennik-ka.ru</text>
<text transform="translate(235.6,129.5) rotate(-22)" text-anchor="middle" textLength="28" lengthAdjust="spacingAndGlyphs">teploobmennik-ka.ru</text>
<text transform="translate(249.6,144.2) rotate(-22)" text-anchor="middle" textLength="28" lengthAdjust="spacingAndGlyphs">teploobmennik-ka.ru</text>
<text transform="translate(263.6,158.9) rotate(-22)" text-anchor="middle" textLength="28" lengthAdjust="spacingAndGlyphs">teploobmennik-ka.ru</text>
<text transform="translate(277.6,173.6) rotate(-22)" text-anchor="middle" textLength="28" lengthAdjust="spacingAndGlyphs">teploobmennik-ka.ru</text>
<text transform="translate(291.6,188.3) rotate(-22)" text-anchor="middle" textLength="28" lengthAdjust="spacingAndGlyphs">teploobmennik-ka.ru</text>
<text transform="translate(305.6,203.0) rotate(-22)" text-anchor="middle" textLength="28" lengthAdjust="spacingAndGlyphs">teploobmennik-ka.ru</text>
<text transform="translate(319.6,217.7) rotate(-22)" text-anchor="middle" textLength="28" lengthAdjust="spacingAndGlyphs">teploobmennik-ka.ru</text>
<text transform="translate(333.6,232.4) rotate(-22)" text-anchor="middle" textLength="28" lengthAdjust="spacingAndGlyphs">teploobmennik-ka.ru</text>
<text transform="translate(347.6,247.1) rotate(-22)" text-anchor="middle" textLength="28" lengthAdjust="spacingAndGlyphs">teploobmennik-ka.ru</text>
<text transform="translate(361.6,261.8) rotate(-22)" text-anchor="middle" textLength="28" lengthAdjust="spacingAndGlyphs">teploobmennik-ka.ru</text>
<text transform="translate(375.6,276.5) rotate(-22)" text-anchor="middle" textLength="28" lengthAdjust="spacingAndGlyphs">teploobmennik-ka.ru</text>
<text transform="translate(389.6,291.2) rotate(-22)" text-anchor="middle" textLength="28" lengthAdjust="spacingAndGlyphs">teploobmennik-ka.ru</text>
<text transform="translate(403.6,305.9) rotate(-22)" text-anchor="middle" textLength="28" lengthAdjust="spacingAndGlyphs">teploobmennik-ka.ru</text>
<text transform="translate(417.6,320.6) rotate(-22)" text-anchor="middle" textLength="28" lengthAdjust="spacingAndGlyphs">teploobmennik-ka.ru</text>
<text transform="translate(431.6,335.3) rotate(-22)" text-anchor="middle" textLength="28" lengthAdjust="spacingAndGlyphs">teploobmennik-ka.ru</text>
<text transform="translate(445.6,350.0) rotate(-22)" text-anchor="middle" textLength="28" lengthAdjust="spacingAndGlyphs">teploobmennik-ka.ru</text>
<text transform="translate(459.6,364.7) rotate(-22)" text-anchor="middle" textLength="28" lengthAdjust="spacingAndGlyphs">teploobmennik-ka.ru</text>
<text transform="translate(473.6,379.4) rotate(-22)" text-anchor="middle" textLength="28" lengthAdjust="spacingAndGlyphs">teploobmennik-ka.ru</text>
<text transform="translate(487.6,394.1) rotate(-22)" text-anchor="middle" textLength="28" lengthAdjust="spacingAndGlyphs">teploobmennik-ka.ru</text>
<text transform="translate(501.6,408.8) rotate(-22)" text-anchor="middle" textLength="28" lengthAdjust="spacingAndGlyphs">teploobmennik-ka.ru</text>
<text transform="translate(515.6,423.5) rotate(-22)" text-anchor="middle" textLength="28" lengthAdjust="spacingAndGlyphs">teploobmennik-ka.ru</text>
<text transform="translate(529.6,438.2) rotate(-22)" text-anchor="middle" textLength="28" lengthAdjust="spacingAndGlyphs">teploobmennik-ka.ru</text>
<text transform="translate(151.1,-8.3) rotate(-22)" text-anchor="middle" textLength="28" lengthAdjust="spacingAndGlyphs">teploobmennik-ka.ru</text>
<text transform="translate(165.1,6.4) rotate(-22)" text-anchor="middle" textLength="28" lengthAdjust="spacingAndGlyphs">teploobmennik-ka.ru</text>
<text transform="translate(179.1,21.1) rotate(-22)" text-anchor="middle" textLength="28" lengthAdjust="spacingAndGlyphs">teploobmennik-ka.ru</text>
<text transform="translate(193.1,35.8) rotate(-22)" text-anchor="middle" textLength="28" lengthAdjust="spacingAndGlyphs">teploobmennik-ka.ru</text>
<text transform="translate(207.1,50.5) rotate(-22)" text-anchor="middle" textLength="28" lengthAdjust="spacingAndGlyphs">teploobmennik-ka.ru</text>
<text transform="translate(221.1,65.2) rotate(-22)" text-anchor="middle" textLength="28" lengthAdjust="spacingAndGlyphs">teploobmennik-ka.ru</text>
<text transform="translate(235.1,79.9) rotate(-22)" text-anchor="middle" textLength="28" lengthAdjust="spacingAndGlyphs">teploobmennik-ka.ru</text>
<text transform="translate(249.1,94.6) rotate(-22)" text-anchor="middle" textLength="28" lengthAdjust="spacingAndGlyphs">teploobmennik-ka.ru</text>
<text transform="translate(263.1,109.3) rotate(-22)" text-anchor="middle" textLength="28" lengthAdjust="spacingAndGlyphs">teploobmennik-ka.ru</text>
<text transform="translate(277.1,124.0) rotate(-22)" text-anchor="middle" textLength="28" lengthAdjust="spacingAndGlyphs">teploobmennik-ka.ru</text>
<text transform="translate(291.1,138.7) rotate(-22)" text-anchor="middle" textLength="28" lengthAdjust="spacingAndGlyphs">teploobmennik-ka.ru</text>
<text transform="translate(305.1,153.4) rotate(-22)" text-anchor="middle" textLength="28" lengthAdjust="spacingAndGlyphs">teploobmennik-ka.ru</text>
<text transform="translate(319.1,168.1) rotate(-22)" text-anchor="middle" textLength="28" lengthAdjust="spacingAndGlyphs">teploobmennik-ka.ru</text>
<text transform="translate(333.1,182.8) rotate(-22)" text-anchor="middle" textLength="28" lengthAdjust="spacingAndGlyphs">teploobmennik-ka.ru</text>
<text transform="translate(347.1,197.5) rotate(-22)" text-anchor="middle" textLength="28" lengthAdjust="spacingAndGlyphs">teploobmennik-ka.ru</text>
<text transform="translate(361.1,212.2) rotate(-22)" text-anchor="middle" textLength="28" lengthAdjust="spacingAndGlyphs">teploobmennik-ka.ru</text>
<text transform="translate(375.1,226.9) rotate(-22)" text-anchor="middle" textLength="28" lengthAdjust="spacingAndGlyphs">teploobmennik-ka.ru</text>
<text transform="translate(389.1,241.6) rotate(-22)" text-anchor="middle" textLength="28" lengthAdjust="spacingAndGlyphs">teploobmennik-ka.ru</text>
<text transform="translate(403.1,256.3) rotate(-22)" text-anchor="middle" textLength="28" lengthAdjust="spacingAndGlyphs">teploobmennik-ka.ru</text>
<text transform="translate(417.1,271.0) rotate(-22)" text-anchor="middle" textLength="28" lengthAdjust="spacingAndGlyphs">teploobmennik-ka.ru</text>
<text transform="translate(431.1,285.7) rotate(-22)" text-anchor="middle" textLength="28" lengthAdjust="spacingAndGlyphs">teploobmennik-ka.ru</text>
<text transform="translate(445.1,300.4) rotate(-22)" text-anchor="middle" textLength="28" lengthAdjust="spacingAndGlyphs">teploobmennik-ka.ru</text>
<text transform="translate(459.1,315.1) rotate(-22)" text-anchor="middle" textLength="28" lengthAdjust="spacingAndGlyphs">teploobmennik-ka.ru</text>
<text transform="translate(473.1,329.8) rotate(-22)" text-anchor="middle" textLength="28" lengthAdjust="spacingAndGlyphs">teploobmennik-ka.ru</text>
<text transform="translate(487.1,344.5) rotate(-22)" text-anchor="middle" textLength="28" lengthAdjust="spacingAndGlyphs">teploobmennik-ka.ru</text>
<text transform="translate(501.1,359.2) rotate(-22)" text-anchor="middle" textLength="28" lengthAdjust="spacingAndGlyphs">teploobmennik-ka.ru</text>
<text transform="translate(515.1,373.9) rotate(-22)" text-anchor="middle" textLength="28" lengthAdjust="spacingAndGlyphs">teploobmennik-ka.ru</text>
<text transform="translate(529.1,388.6) rotate(-22)" text-anchor="middle" textLength="28" lengthAdjust="spacingAndGlyphs">teploobmennik-ka.ru</text>
<text transform="translate(543.1,403.3) rotate(-22)" text-anchor="middle" textLength="28" lengthAdjust="spacingAndGlyphs">teploobmennik-ka.ru</text>
<text transform="translate(557.1,418.0) rotate(-22)" text-anchor="middle" textLength="28" lengthAdjust="spacingAndGlyphs">teploobmennik-ka.ru</text>
<text transform="translate(571.1,432.7) rotate(-22)" text-anchor="middle" textLength="28" lengthAdjust="spacingAndGlyphs">teploobmennik-ka.ru</text>
<text transform="translate(206.6,0.9) rotate(-22)" text-anchor="middle" textLength="28" lengthAdjust="spacingAndGlyphs">teploobmennik-ka.ru</text>
<text transform="translate(220.6,15.6) rotate(-22)" text-anchor="middle" textLength="28" lengthAdjust="spacingAndGlyphs">teploobmennik-ka.ru</text>
<text transform="translate(234.6,30.3) rotate(-22)" text-anchor="middle" textLength="28" lengthAdjust="spacingAndGlyphs">teploobmennik-ka.ru</text>
<text transform="translate(248.6,45.0) rotate(-22)" text-anchor="middle" textLength="28" lengthAdjust="spacingAndGlyphs">teploobmennik-ka.ru</text>
<text transform="translate(262.6,59.7) rotate(-22)" text-anchor="middle" textLength="28" lengthAdjust="spacingAndGlyphs">teploobmennik-ka.ru</text>
<text transform="translate(276.6,74.4) rotate(-22)" text-anchor="middle" textLength="28" lengthAdjust="spacingAndGlyphs">teploobmennik-ka.ru</text>
<text transform="translate(290.6,89.1) rotate(-22)" text-anchor="middle" textLength="28" lengthAdjust="spacingAndGlyphs">teploobmennik-ka.ru</text>
<text transform="translate(304.6,103.8) rotate(-22)" text-anchor="middle" textLength="28" lengthAdjust="spacingAndGlyphs">teploobmennik-ka.ru</text>
<text transform="translate(318.6,118.5) rotate(-22)" text-anchor="middle" textLength="28" lengthAdjust="spacingAndGlyphs">teploobmennik-ka.ru</text>
<text transform="translate(332.6,133.2) rotate(-22)" text-anchor="middle" textLength="28" lengthAdjust="spacingAndGlyphs">teploobmennik-ka.ru</text>
<text transform="translate(346.6,147.9) rotate(-22)" text-anchor="middle" textLength="28" lengthAdjust="spacingAndGlyphs">teploobmennik-ka.ru</text>
<text transform="translate(360.6,162.6) rotate(-22)" text-anchor="middle" textLength="28" lengthAdjust="spacingAndGlyphs">teploobmennik-ka.ru</text>
<text transform="translate(374.6,177.3) rotate(-22)" text-anchor="middle" textLength="28" lengthAdjust="spacingAndGlyphs">teploobmennik-ka.ru</text>
<text transform="translate(388.6,192.0) rotate(-22)" text-anchor="middle" textLength="28" lengthAdjust="spacingAndGlyphs">teploobmennik-ka.ru</text>
<text transform="translate(402.6,206.7) rotate(-22)" text-anchor="middle" textLength="28" lengthAdjust="spacingAndGlyphs">teploobmennik-ka.ru</text>
<text transform="translate(416.6,221.4) rotate(-22)" text-anchor="middle" textLength="28" lengthAdjust="spacingAndGlyphs">teploobmennik-ka.ru</text>
<text transform="translate(430.6,236.1) rotate(-22)" text-anchor="middle" textLength="28" lengthAdjust="spacingAndGlyphs">teploobmennik-ka.ru</text>
<text transform="translate(444.6,250.8) rotate(-22)" text-anchor="middle" textLength="28" lengthAdjust="spacingAndGlyphs">teploobmennik-ka.ru</text>
<text transform="translate(458.6,265.5) rotate(-22)" text-anchor="middle" textLength="28" lengthAdjust="spacingAndGlyphs">teploobmennik-ka.ru</text>
<text transform="translate(472.6,280.2) rotate(-22)" text-anchor="middle" textLength="28" lengthAdjust="spacingAndGlyphs">teploobmennik-ka.ru</text>
<text transform="translate(486.6,294.9) rotate(-22)" text-anchor="middle" textLength="28" lengthAdjust="spacingAndGlyphs">teploobmennik-ka.ru</text>
<text transform="translate(500.6,309.6) rotate(-22)" text-anchor="middle" textLength="28" lengthAdjust="spacingAndGlyphs">teploobmennik-ka.ru</text>
<text transform="translate(514.6,324.3) rotate(-22)" text-anchor="middle" textLength="28" lengthAdjust="spacingAndGlyphs">teploobmennik-ka.ru</text>
<text transform="translate(528.6,339.0) rotate(-22)" text-anchor="middle" textLength="28" lengthAdjust="spacingAndGlyphs">teploobmennik-ka.ru</text>
<text transform="translate(542.6,353.7) rotate(-22)" text-anchor="middle" textLength="28" lengthAdjust="spacingAndGlyphs">teploobmennik-ka.ru</text>
<text transform="translate(556.6,368.4) rotate(-22)" text-anchor="middle" textLength="28" lengthAdjust="spacingAndGlyphs">teploobmennik-ka.ru</text>
<text transform="translate(570.6,383.1) rotate(-22)" text-anchor="middle" textLength="28" lengthAdjust="spacingAndGlyphs">teploobmennik-ka.ru</text>
<text transform="translate(584.6,397.8) rotate(-22)" text-anchor="middle" textLength="28" lengthAdjust="spacingAndGlyphs">teploobmennik-ka.ru</text>
<text transform="translate(598.6,412.5) rotate(-22)" text-anchor="middle" textLength="28" lengthAdjust="spacingAndGlyphs">teploobmennik-ka.ru</text>
<text transform="translate(612.6,427.2) rotate(-22)" text-anchor="middle" textLength="28" lengthAdjust="spacingAndGlyphs">teploobmennik-ka.ru</text>
<text transform="translate(248.1,-4.6) rotate(-22)" text-anchor="middle" textLength="28" lengthAdjust="spacingAndGlyphs">teploobmennik-ka.ru</text>
<text transform="translate(262.1,10.1) rotate(-22)" text-anchor="middle" textLength="28" lengthAdjust="spacingAndGlyphs">teploobmennik-ka.ru</text>
<text transform="translate(276.1,24.8) rotate(-22)" text-anchor="middle" textLength="28" lengthAdjust="spacingAndGlyphs">teploobmennik-ka.ru</text>
<text transform="translate(290.1,39.5) rotate(-22)" text-anchor="middle" textLength="28" lengthAdjust="spacingAndGlyphs">teploobmennik-ka.ru</text>
<text transform="translate(304.1,54.2) rotate(-22)" text-anchor="middle" textLength="28" lengthAdjust="spacingAndGlyphs">teploobmennik-ka.ru</text>
<text transform="translate(318.1,68.9) rotate(-22)" text-anchor="middle" textLength="28" lengthAdjust="spacingAndGlyphs">teploobmennik-ka.ru</text>
<text transform="translate(332.1,83.6) rotate(-22)" text-anchor="middle" textLength="28" lengthAdjust="spacingAndGlyphs">teploobmennik-ka.ru</text>
<text transform="translate(346.1,98.3) rotate(-22)" text-anchor="middle" textLength="28" lengthAdjust="spacingAndGlyphs">teploobmennik-ka.ru</text>
<text transform="translate(360.1,113.0) rotate(-22)" text-anchor="middle" textLength="28" lengthAdjust="spacingAndGlyphs">teploobmennik-ka.ru</text>
<text transform="translate(374.1,127.7) rotate(-22)" text-anchor="middle" textLength="28" lengthAdjust="spacingAndGlyphs">teploobmennik-ka.ru</text>
<text transform="translate(388.1,142.4) rotate(-22)" text-anchor="middle" textLength="28" lengthAdjust="spacingAndGlyphs">teploobmennik-ka.ru</text>
<text transform="translate(402.1,157.1) rotate(-22)" text-anchor="middle" textLength="28" lengthAdjust="spacingAndGlyphs">teploobmennik-ka.ru</text>
<text transform="translate(416.1,171.8) rotate(-22)" text-anchor="middle" textLength="28" lengthAdjust="spacingAndGlyphs">teploobmennik-ka.ru</text>
<text transform="translate(430.1,186.5) rotate(-22)" text-anchor="middle" textLength="28" lengthAdjust="spacingAndGlyphs">teploobmennik-ka.ru</text>
<text transform="translate(444.1,201.2) rotate(-22)" text-anchor="middle" textLength="28" lengthAdjust="spacingAndGlyphs">teploobmennik-ka.ru</text>
<text transform="translate(458.1,215.9) rotate(-22)" text-anchor="middle" textLength="28" lengthAdjust="spacingAndGlyphs">teploobmennik-ka.ru</text>
<text transform="translate(472.1,230.6) rotate(-22)" text-anchor="middle" textLength="28" lengthAdjust="spacingAndGlyphs">teploobmennik-ka.ru</text>
<text transform="translate(486.1,245.3) rotate(-22)" text-anchor="middle" textLength="28" lengthAdjust="spacingAndGlyphs">teploobmennik-ka.ru</text>
<text transform="translate(500.1,260.0) rotate(-22)" text-anchor="middle" textLength="28" lengthAdjust="spacingAndGlyphs">teploobmennik-ka.ru</text>
<text transform="translate(514.1,274.7) rotate(-22)" text-anchor="middle" textLength="28" lengthAdjust="spacingAndGlyphs">teploobmennik-ka.ru</text>
<text transform="translate(528.1,289.4) rotate(-22)" text-anchor="middle" textLength="28" lengthAdjust="spacingAndGlyphs">teploobmennik-ka.ru</text>
<text transform="translate(542.1,304.1) rotate(-22)" text-anchor="middle" textLength="28" lengthAdjust="spacingAndGlyphs">teploobmennik-ka.ru</text>
<text transform="translate(556.1,318.8) rotate(-22)" text-anchor="middle" textLength="28" lengthAdjust="spacingAndGlyphs">teploobmennik-ka.ru</text>
<text transform="translate(570.1,333.5) rotate(-22)" text-anchor="middle" textLength="28" lengthAdjust="spacingAndGlyphs">teploobmennik-ka.ru</text>
<text transform="translate(584.1,348.2) rotate(-22)" text-anchor="middle" textLength="28" lengthAdjust="spacingAndGlyphs">teploobmennik-ka.ru</text>
<text transform="translate(598.1,362.9) rotate(-22)" text-anchor="middle" textLength="28" lengthAdjust="spacingAndGlyphs">teploobmennik-ka.ru</text>
<text transform="translate(612.1,377.6) rotate(-22)" text-anchor="middle" textLength="28" lengthAdjust="spacingAndGlyphs">teploobmennik-ka.ru</text>
<text transform="translate(626.1,392.3) rotate(-22)" text-anchor="middle" textLength="28" lengthAdjust="spacingAndGlyphs">teploobmennik-ka.ru</text>
<text transform="translate(640.1,407.0) rotate(-22)" text-anchor="middle" textLength="28" lengthAdjust="spacingAndGlyphs">teploobmennik-ka.ru</text>
<text transform="translate(654.1,421.7) rotate(-22)" text-anchor="middle" textLength="28" lengthAdjust="spacingAndGlyphs">teploobmennik-ka.ru</text>
<text transform="translate(303.6,4.6) rotate(-22)" text-anchor="middle" textLength="28" lengthAdjust="spacingAndGlyphs">teploobmennik-ka.ru</text>
<text transform="translate(317.6,19.3) rotate(-22)" text-anchor="middle" textLength="28" lengthAdjust="spacingAndGlyphs">teploobmennik-ka.ru</text>
<text transform="translate(331.6,34.0) rotate(-22)" text-anchor="middle" textLength="28" lengthAdjust="spacingAndGlyphs">teploobmennik-ka.ru</text>
<text transform="translate(345.6,48.7) rotate(-22)" text-anchor="middle" textLength="28" lengthAdjust="spacingAndGlyphs">teploobmennik-ka.ru</text>
<text transform="translate(359.6,63.4) rotate(-22)" text-anchor="middle" textLength="28" lengthAdjust="spacingAndGlyphs">teploobmennik-ka.ru</text>
<text transform="translate(373.6,78.1) rotate(-22)" text-anchor="middle" textLength="28" lengthAdjust="spacingAndGlyphs">teploobmennik-ka.ru</text>
<text transform="translate(387.6,92.8) rotate(-22)" text-anchor="middle" textLength="28" lengthAdjust="spacingAndGlyphs">teploobmennik-ka.ru</text>
<text transform="translate(401.6,107.5) rotate(-22)" text-anchor="middle" textLength="28" lengthAdjust="spacingAndGlyphs">teploobmennik-ka.ru</text>
<text transform="translate(415.6,122.2) rotate(-22)" text-anchor="middle" textLength="28" lengthAdjust="spacingAndGlyphs">teploobmennik-ka.ru</text>
<text transform="translate(429.6,136.9) rotate(-22)" text-anchor="middle" textLength="28" lengthAdjust="spacingAndGlyphs">teploobmennik-ka.ru</text>
<text transform="translate(443.6,151.6) rotate(-22)" text-anchor="middle" textLength="28" lengthAdjust="spacingAndGlyphs">teploobmennik-ka.ru</text>
<text transform="translate(457.6,166.3) rotate(-22)" text-anchor="middle" textLength="28" lengthAdjust="spacingAndGlyphs">teploobmennik-ka.ru</text>
<text transform="translate(471.6,181.0) rotate(-22)" text-anchor="middle" textLength="28" lengthAdjust="spacingAndGlyphs">teploobmennik-ka.ru</text>
<text transform="translate(485.6,195.7) rotate(-22)" text-anchor="middle" textLength="28" lengthAdjust="spacingAndGlyphs">teploobmennik-ka.ru</text>
<text transform="translate(499.6,210.4) rotate(-22)" text-anchor="middle" textLength="28" lengthAdjust="spacingAndGlyphs">teploobmennik-ka.ru</text>
<text transform="translate(513.6,225.1) rotate(-22)" text-anchor="middle" textLength="28" lengthAdjust="spacingAndGlyphs">teploobmennik-ka.ru</text>
<text transform="translate(527.6,239.8) rotate(-22)" text-anchor="middle" textLength="28" lengthAdjust="spacingAndGlyphs">teploobmennik-ka.ru</text>
<text transform="translate(541.6,254.5) rotate(-22)" text-anchor="middle" textLength="28" lengthAdjust="spacingAndGlyphs">teploobmennik-ka.ru</text>
<text transform="translate(555.6,269.2) rotate(-22)" text-anchor="middle" textLength="28" lengthAdjust="spacingAndGlyphs">teploobmennik-ka.ru</text>
<text transform="translate(569.6,283.9) rotate(-22)" text-anchor="middle" textLength="28" lengthAdjust="spacingAndGlyphs">teploobmennik-ka.ru</text>
<text transform="translate(583.6,298.6) rotate(-22)" text-anchor="middle" textLength="28" lengthAdjust="spacingAndGlyphs">teploobmennik-ka.ru</text>
<text transform="translate(597.6,313.3) rotate(-22)" text-anchor="middle" textLength="28" lengthAdjust="spacingAndGlyphs">teploobmennik-ka.ru</text>
<text transform="translate(611.6,328.0) rotate(-22)" text-anchor="middle" textLength="28" lengthAdjust="spacingAndGlyphs">teploobmennik-ka.ru</text>
<text transform="translate(625.6,342.7) rotate(-22)" text-anchor="middle" textLength="28" lengthAdjust="spacingAndGlyphs">teploobmennik-ka.ru</text>
<text transform="translate(639.6,357.4) rotate(-22)" text-anchor="middle" textLength="28" lengthAdjust="spacingAndGlyphs">teploobmennik-ka.ru</text>
<text transform="translate(653.6,372.1) rotate(-22)" text-anchor="middle" textLength="28" lengthAdjust="spacingAndGlyphs">teploobmennik-ka.ru</text>
<text transform="translate(345.1,-0.9) rotate(-22)" text-anchor="middle" textLength="28" lengthAdjust="spacingAndGlyphs">teploobmennik-ka.ru</text>
<text transform="translate(359.1,13.8) rotate(-22)" text-anchor="middle" textLength="28" lengthAdjust="spacingAndGlyphs">teploobmennik-ka.ru</text>
<text transform="translate(373.1,28.5) rotate(-22)" text-anchor="middle" textLength="28" lengthAdjust="spacingAndGlyphs">teploobmennik-ka.ru</text>
<text transform="translate(387.1,43.2) rotate(-22)" text-anchor="middle" textLength="28" lengthAdjust="spacingAndGlyphs">teploobmennik-ka.ru</text>
<text transform="translate(401.1,57.9) rotate(-22)" text-anchor="middle" textLength="28" lengthAdjust="spacingAndGlyphs">teploobmennik-ka.ru</text>
<text transform="translate(415.1,72.6) rotate(-22)" text-anchor="middle" textLength="28" lengthAdjust="spacingAndGlyphs">teploobmennik-ka.ru</text>
<text transform="translate(429.1,87.3) rotate(-22)" text-anchor="middle" textLength="28" lengthAdjust="spacingAndGlyphs">teploobmennik-ka.ru</text>
<text transform="translate(443.1,102.0) rotate(-22)" text-anchor="middle" textLength="28" lengthAdjust="spacingAndGlyphs">teploobmennik-ka.ru</text>
<text transform="translate(457.1,116.7) rotate(-22)" text-anchor="middle" textLength="28" lengthAdjust="spacingAndGlyphs">teploobmennik-ka.ru</text>
<text transform="translate(471.1,131.4) rotate(-22)" text-anchor="middle" textLength="28" lengthAdjust="spacingAndGlyphs">teploobmennik-ka.ru</text>
<text transform="translate(485.1,146.1) rotate(-22)" text-anchor="middle" textLength="28" lengthAdjust="spacingAndGlyphs">teploobmennik-ka.ru</text>
<text transform="translate(499.1,160.8) rotate(-22)" text-anchor="middle" textLength="28" lengthAdjust="spacingAndGlyphs">teploobmennik-ka.ru</text>
<text transform="translate(513.1,175.5) rotate(-22)" text-anchor="middle" textLength="28" lengthAdjust="spacingAndGlyphs">teploobmennik-ka.ru</text>
<text transform="translate(527.1,190.2) rotate(-22)" text-anchor="middle" textLength="28" lengthAdjust="spacingAndGlyphs">teploobmennik-ka.ru</text>
<text transform="translate(541.1,204.9) rotate(-22)" text-anchor="middle" textLength="28" lengthAdjust="spacingAndGlyphs">teploobmennik-ka.ru</text>
<text transform="translate(555.1,219.6) rotate(-22)" text-anchor="middle" textLength="28" lengthAdjust="spacingAndGlyphs">teploobmennik-ka.ru</text>
<text transform="translate(569.1,234.3) rotate(-22)" text-anchor="middle" textLength="28" lengthAdjust="spacingAndGlyphs">teploobmennik-ka.ru</text>
<text transform="translate(583.1,249.0) rotate(-22)" text-anchor="middle" textLength="28" lengthAdjust="spacingAndGlyphs">teploobmennik-ka.ru</text>
<text transform="translate(597.1,263.7) rotate(-22)" text-anchor="middle" textLength="28" lengthAdjust="spacingAndGlyphs">teploobmennik-ka.ru</text>
<text transform="translate(611.1,278.4) rotate(-22)" text-anchor="middle" textLength="28" lengthAdjust="spacingAndGlyphs">teploobmennik-ka.ru</text>
<text transform="translate(625.1,293.1) rotate(-22)" text-anchor="middle" textLength="28" lengthAdjust="spacingAndGlyphs">teploobmennik-ka.ru</text>
<text transform="translate(639.1,307.8) rotate(-22)" text-anchor="middle" textLength="28" lengthAdjust="spacingAndGlyphs">teploobmennik-ka.ru</text>
<text transform="translate(653.1,322.5) rotate(-22)" text-anchor="middle" textLength="28" lengthAdjust="spacingAndGlyphs">teploobmennik-ka.ru</text>
<text transform="translate(386.6,-6.4) rotate(-22)" text-anchor="middle" textLength="28" lengthAdjust="spacingAndGlyphs">teploobmennik-ka.ru</text>
<text transform="translate(400.6,8.3) rotate(-22)" text-anchor="middle" textLength="28" lengthAdjust="spacingAndGlyphs">teploobmennik-ka.ru</text>
<text transform="translate(414.6,23.0) rotate(-22)" text-anchor="middle" textLength="28" lengthAdjust="spacingAndGlyphs">teploobmennik-ka.ru</text>
<text transform="translate(428.6,37.7) rotate(-22)" text-anchor="middle" textLength="28" lengthAdjust="spacingAndGlyphs">teploobmennik-ka.ru</text>
<text transform="translate(442.6,52.4) rotate(-22)" text-anchor="middle" textLength="28" lengthAdjust="spacingAndGlyphs">teploobmennik-ka.ru</text>
<text transform="translate(456.6,67.1) rotate(-22)" text-anchor="middle" textLength="28" lengthAdjust="spacingAndGlyphs">teploobmennik-ka.ru</text>
<text transform="translate(470.6,81.8) rotate(-22)" text-anchor="middle" textLength="28" lengthAdjust="spacingAndGlyphs">teploobmennik-ka.ru</text>
<text transform="translate(484.6,96.5) rotate(-22)" text-anchor="middle" textLength="28" lengthAdjust="spacingAndGlyphs">teploobmennik-ka.ru</text>
<text transform="translate(498.6,111.2) rotate(-22)" text-anchor="middle" textLength="28" lengthAdjust="spacingAndGlyphs">teploobmennik-ka.ru</text>
<text transform="translate(512.6,125.9) rotate(-22)" text-anchor="middle" textLength="28" lengthAdjust="spacingAndGlyphs">teploobmennik-ka.ru</text>
<text transform="translate(526.6,140.6) rotate(-22)" text-anchor="middle" textLength="28" lengthAdjust="spacingAndGlyphs">teploobmennik-ka.ru</text>
<text transform="translate(540.6,155.3) rotate(-22)" text-anchor="middle" textLength="28" lengthAdjust="spacingAndGlyphs">teploobmennik-ka.ru</text>
<text transform="translate(554.6,170.0) rotate(-22)" text-anchor="middle" textLength="28" lengthAdjust="spacingAndGlyphs">teploobmennik-ka.ru</text>
<text transform="translate(568.6,184.7) rotate(-22)" text-anchor="middle" textLength="28" lengthAdjust="spacingAndGlyphs">teploobmennik-ka.ru</text>
<text transform="translate(582.6,199.4) rotate(-22)" text-anchor="middle" textLength="28" lengthAdjust="spacingAndGlyphs">teploobmennik-ka.ru</text>
<text transform="translate(596.6,214.1) rotate(-22)" text-anchor="middle" textLength="28" lengthAdjust="spacingAndGlyphs">teploobmennik-ka.ru</text>
<text transform="translate(610.6,228.8) rotate(-22)" text-anchor="middle" textLength="28" lengthAdjust="spacingAndGlyphs">teploobmennik-ka.ru</text>
<text transform="translate(624.6,243.5) rotate(-22)" text-anchor="middle" textLength="28" lengthAdjust="spacingAndGlyphs">teploobmennik-ka.ru</text>
<text transform="translate(638.6,258.2) rotate(-22)" text-anchor="middle" textLength="28" lengthAdjust="spacingAndGlyphs">teploobmennik-ka.ru</text>
<text transform="translate(652.6,272.9) rotate(-22)" text-anchor="middle" textLength="28" lengthAdjust="spacingAndGlyphs">teploobmennik-ka.ru</text>
<text transform="translate(442.1,2.8) rotate(-22)" text-anchor="middle" textLength="28" lengthAdjust="spacingAndGlyphs">teploobmennik-ka.ru</text>
<text transform="translate(456.1,17.5) rotate(-22)" text-anchor="middle" textLength="28" lengthAdjust="spacingAndGlyphs">teploobmennik-ka.ru</text>
<text transform="translate(470.1,32.2) rotate(-22)" text-anchor="middle" textLength="28" lengthAdjust="spacingAndGlyphs">teploobmennik-ka.ru</text>
<text transform="translate(484.1,46.9) rotate(-22)" text-anchor="middle" textLength="28" lengthAdjust="spacingAndGlyphs">teploobmennik-ka.ru</text>
<text transform="translate(498.1,61.6) rotate(-22)" text-anchor="middle" textLength="28" lengthAdjust="spacingAndGlyphs">teploobmennik-ka.ru</text>
<text transform="translate(512.1,76.3) rotate(-22)" text-anchor="middle" textLength="28" lengthAdjust="spacingAndGlyphs">teploobmennik-ka.ru</text>
<text transform="translate(526.1,91.0) rotate(-22)" text-anchor="middle" textLength="28" lengthAdjust="spacingAndGlyphs">teploobmennik-ka.ru</text>
<text transform="translate(540.1,105.7) rotate(-22)" text-anchor="middle" textLength="28" lengthAdjust="spacingAndGlyphs">teploobmennik-ka.ru</text>
<text transform="translate(554.1,120.4) rotate(-22)" text-anchor="middle" textLength="28" lengthAdjust="spacingAndGlyphs">teploobmennik-ka.ru</text>
<text transform="translate(568.1,135.1) rotate(-22)" text-anchor="middle" textLength="28" lengthAdjust="spacingAndGlyphs">teploobmennik-ka.ru</text>
<text transform="translate(582.1,149.8) rotate(-22)" text-anchor="middle" textLength="28" lengthAdjust="spacingAndGlyphs">teploobmennik-ka.ru</text>
<text transform="translate(596.1,164.5) rotate(-22)" text-anchor="middle" textLength="28" lengthAdjust="spacingAndGlyphs">teploobmennik-ka.ru</text>
<text transform="translate(610.1,179.2) rotate(-22)" text-anchor="middle" textLength="28" lengthAdjust="spacingAndGlyphs">teploobmennik-ka.ru</text>
<text transform="translate(624.1,193.9) rotate(-22)" text-anchor="middle" textLength="28" lengthAdjust="spacingAndGlyphs">teploobmennik-ka.ru</text>
<text transform="translate(638.1,208.6) rotate(-22)" text-anchor="middle" textLength="28" lengthAdjust="spacingAndGlyphs">teploobmennik-ka.ru</text>
<text transform="translate(652.1,223.3) rotate(-22)" text-anchor="middle" textLength="28" lengthAdjust="spacingAndGlyphs">teploobmennik-ka.ru</text>
<text transform="translate(483.6,-2.7) rotate(-22)" text-anchor="middle" textLength="28" lengthAdjust="spacingAndGlyphs">teploobmennik-ka.ru</text>
<text transform="translate(497.6,12.0) rotate(-22)" text-anchor="middle" textLength="28" lengthAdjust="spacingAndGlyphs">teploobmennik-ka.ru</text>
<text transform="translate(511.6,26.7) rotate(-22)" text-anchor="middle" textLength="28" lengthAdjust="spacingAndGlyphs">teploobmennik-ka.ru</text>
<text transform="translate(525.6,41.4) rotate(-22)" text-anchor="middle" textLength="28" lengthAdjust="spacingAndGlyphs">teploobmennik-ka.ru</text>
<text transform="translate(539.6,56.1) rotate(-22)" text-anchor="middle" textLength="28" lengthAdjust="spacingAndGlyphs">teploobmennik-ka.ru</text>
<text transform="translate(553.6,70.8) rotate(-22)" text-anchor="middle" textLength="28" lengthAdjust="spacingAndGlyphs">teploobmennik-ka.ru</text>
<text transform="translate(567.6,85.5) rotate(-22)" text-anchor="middle" textLength="28" lengthAdjust="spacingAndGlyphs">teploobmennik-ka.ru</text>
<text transform="translate(581.6,100.2) rotate(-22)" text-anchor="middle" textLength="28" lengthAdjust="spacingAndGlyphs">teploobmennik-ka.ru</text>
<text transform="translate(595.6,114.9) rotate(-22)" text-anchor="middle" textLength="28" lengthAdjust="spacingAndGlyphs">teploobmennik-ka.ru</text>
<text transform="translate(609.6,129.6) rotate(-22)" text-anchor="middle" textLength="28" lengthAdjust="spacingAndGlyphs">teploobmennik-ka.ru</text>
<text transform="translate(623.6,144.3) rotate(-22)" text-anchor="middle" textLength="28" lengthAdjust="spacingAndGlyphs">teploobmennik-ka.ru</text>
<text transform="translate(637.6,159.0) rotate(-22)" text-anchor="middle" textLength="28" lengthAdjust="spacingAndGlyphs">teploobmennik-ka.ru</text>
<text transform="translate(651.6,173.7) rotate(-22)" text-anchor="middle" textLength="28" lengthAdjust="spacingAndGlyphs">teploobmennik-ka.ru</text>
<text transform="translate(525.1,-8.2) rotate(-22)" text-anchor="middle" textLength="28" lengthAdjust="spacingAndGlyphs">teploobmennik-ka.ru</text>
<text transform="translate(539.1,6.5) rotate(-22)" text-anchor="middle" textLength="28" lengthAdjust="spacingAndGlyphs">teploobmennik-ka.ru</text>
<text transform="translate(553.1,21.2) rotate(-22)" text-anchor="middle" textLength="28" lengthAdjust="spacingAndGlyphs">teploobmennik-ka.ru</text>
<text transform="translate(567.1,35.9) rotate(-22)" text-anchor="middle" textLength="28" lengthAdjust="spacingAndGlyphs">teploobmennik-ka.ru</text>
<text transform="translate(581.1,50.6) rotate(-22)" text-anchor="middle" textLength="28" lengthAdjust="spacingAndGlyphs">teploobmennik-ka.ru</text>
<text transform="translate(595.1,65.3) rotate(-22)" text-anchor="middle" textLength="28" lengthAdjust="spacingAndGlyphs">teploobmennik-ka.ru</text>
<text transform="translate(609.1,80.0) rotate(-22)" text-anchor="middle" textLength="28" lengthAdjust="spacingAndGlyphs">teploobmennik-ka.ru</text>
<text transform="translate(623.1,94.7) rotate(-22)" text-anchor="middle" textLength="28" lengthAdjust="spacingAndGlyphs">teploobmennik-ka.ru</text>
<text transform="translate(637.1,109.4) rotate(-22)" text-anchor="middle" textLength="28" lengthAdjust="spacingAndGlyphs">teploobmennik-ka.ru</text>
<text transform="translate(651.1,124.1) rotate(-22)" text-anchor="middle" textLength="28" lengthAdjust="spacingAndGlyphs">teploobmennik-ka.ru</text>
<text transform="translate(580.6,1.0) rotate(-22)" text-anchor="middle" textLength="28" lengthAdjust="spacingAndGlyphs">teploobmennik-ka.ru</text>
<text transform="translate(594.6,15.7) rotate(-22)" text-anchor="middle" textLength="28" lengthAdjust="spacingAndGlyphs">teploobmennik-ka.ru</text>
<text transform="translate(608.6,30.4) rotate(-22)" text-anchor="middle" textLength="28" lengthAdjust="spacingAndGlyphs">teploobmennik-ka.ru</text>
<text transform="translate(622.6,45.1) rotate(-22)" text-anchor="middle" textLength="28" lengthAdjust="spacingAndGlyphs">teploobmennik-ka.ru</text>
<text transform="translate(636.6,59.8) rotate(-22)" text-anchor="middle" textLength="28" lengthAdjust="spacingAndGlyphs">teploobmennik-ka.ru</text>
<text transform="translate(650.6,74.5) rotate(-22)" text-anchor="middle" textLength="28" lengthAdjust="spacingAndGlyphs">teploobmennik-ka.ru</text>
<text transform="translate(622.1,-4.5) rotate(-22)" text-anchor="middle" textLength="28" lengthAdjust="spacingAndGlyphs">teploobmennik-ka.ru</text>
<text transform="translate(636.1,10.2) rotate(-22)" text-anchor="middle" textLength="28" lengthAdjust="spacingAndGlyphs">teploobmennik-ka.ru</text>
<text transform="translate(650.1,24.9) rotate(-22)" text-anchor="middle" textLength="28" lengthAdjust="spacingAndGlyphs">teploobmennik-ka.ru</text>
</g>
<!-- outer thin border -->
<path class="g" d="M18.5 0.5H625.5M18.5 0V428M625.5 0V430"/><path d="M18.5 428.3H625.5" stroke="#ccc" stroke-width="0.6"/>
<!-- main frame -->
<rect class="k" x="47.6" y="7.3" width="570.9" height="414.2"/>
<path class="k" d="M33.5 7.3H47.6M33.5 7.3V171.8M33.5 223.8V421.5H47.6"/>
<!-- top stamp -->
<path class="k" d="M47.6 7.5V421.5M47.6 25.6H143.8V7.5"/>
<text transform="translate(95,12.6) rotate(180)" font-size="10" text-anchor="middle" textLength="78" lengthAdjust="spacingAndGlyphs">ЕЖТ 20.017.011.00.000  ВО</text>
<!-- left columns -->
<path class="k" d="M33.5 171.8H47.6M40.9 7.5V171.8M33.5 89.7H47.6"/>
<path class="k" d="M33.5 223.8H47.6M40.9 223.8V421.5M33.5 272H47.6M33.5 306H47.6M33.5 339.6H47.6M33.5 389H47.6"/>
<g font-size="4.5" class="lt">
<text transform="translate(38.5,52) rotate(-90)" text-anchor="middle">Перв. примен.</text>
<text transform="translate(38.5,139) rotate(-90)" text-anchor="middle">Справ. №</text>
<text transform="translate(38.5,248) rotate(-90)" text-anchor="middle">Подп. и дата</text>
<text transform="translate(38.5,291.5) rotate(-90)" text-anchor="middle">Инв. № дубл.</text>
<text transform="translate(38.5,323) rotate(-90)" text-anchor="middle">Взам. инв. №</text>
<text transform="translate(38.5,364) rotate(-90)" text-anchor="middle">Подп. и дата</text>
<text transform="translate(38.5,405) rotate(-90)" text-anchor="middle">Инв. № подл.</text>
</g>
<!-- title block -->
<path class="k" d="M350.4 421V399.8H618.5M361.1 399.8V421.5M374.8 399.8V421.5M408.5 399.8V421.5M430.2 399.8V421.5M444.3 399.8V421.5M350.4 413.9H444.3M603.5 399.8V421.5M603.5 407H618.5"/>
<path class="t" d="M350.4 407.4H444.3"/>
<g font-size="4.5" fill="#333">
<text x="355.7" y="419.5" text-anchor="middle">Изм</text>
<text x="368" y="419.5" text-anchor="middle">Лист</text>
<text x="391.6" y="419.5" text-anchor="middle">№ докум.</text>
<text x="419.3" y="419.5" text-anchor="middle">Подпись</text>
<text x="437.2" y="419.5" text-anchor="middle">Дата</text>
<text x="611" y="405.5" text-anchor="middle">Лист</text>
</g>
<text x="467.5" y="415.4" font-size="13" textLength="93" lengthAdjust="spacingAndGlyphs">ЕЖТ .20.017.011.00.000</text><text x="566.5" y="415.4" font-size="13" textLength="11.5" lengthAdjust="spacingAndGlyphs">ВО</text>
<text x="609" y="417" font-size="6" text-anchor="middle">1</text>
<text x="568" y="428.5" font-size="7.5">Формат  А3</text>
<!-- ===== LEFT BOILER (view A) ===== -->
<g id="left">
<!-- centre lines -->
<path class="c" d="M208.3 52V334M112 245.5H304M122 258H294"/>
<!-- big shell -->
<circle class="k" cx="208.3" cy="245.5" r="79.3" style="stroke-width:1.9"/>
<!-- door ring -->
<circle class="m" cx="208.3" cy="258" r="61.3" style="stroke-width:1.2"/>
<circle class="d" cx="208.3" cy="258" r="59.3" style="stroke:#777;stroke-width:1;stroke-dasharray:2 1"/>
<g fill="#111">
<circle cx="208.3" cy="198.7" r="1.9"/><circle cx="208.3" cy="317" r="1.9"/>
<circle cx="149" cy="258" r="1.9"/><circle cx="267.4" cy="258" r="1.9"/>
<circle cx="166.4" cy="216.2" r="1.9"/><circle cx="250.2" cy="216.2" r="1.9"/>
<circle cx="166.4" cy="299.8" r="1.9"/><circle cx="250.2" cy="299.8" r="1.9"/>
</g>
<!-- lifting lugs -->
<path class="k" d="M191.3 205.5V193a3.6 3.6 0 0 1 7.2 0V205.5M218.3 205.5V193a3.6 3.6 0 0 1 7.2 0V205.5" style="stroke-width:1.8"/>
<!-- peephole -->
<circle cx="177" cy="226" r="3.2" fill="#555" stroke="#111" stroke-width="0.8"/><circle cx="177" cy="226" r="1.4" fill="#ccc"/>
<!-- door -->
<rect class="m" x="181.2" y="231.2" width="53.5" height="52.8" style="stroke-width:1.3"/>
<rect class="d" x="182.8" y="232.8" width="50.3" height="49.6" style="stroke-width:0.7;stroke:#888;stroke-dasharray:1 1"/>
<rect class="m" x="191" y="240.2" width="34" height="37.7" style="stroke-width:0.8"/>
<path d="M199.5 252.3L202.5 247.6H213.5L216.5 252.3Z" fill="#222"/>
<path class="m" d="M200 252.2H197Q191 252.2 191 258.5V271Q191 277.3 197 277.3H200ZM216 252.2H219Q225 252.2 225 258.5V271Q225 277.3 219 277.3H216ZM200 251.8H216V278H200Z" style="stroke-width:1.1"/>
<rect class="m" x="203" y="233.3" width="10" height="14.3" style="stroke-width:1"/>
<path class="m" d="M203 239.2h10" style="stroke-width:0.8"/>
<circle class="m" cx="208" cy="243.6" r="2.3" style="stroke-width:1.1"/>
<rect x="204.5" y="231.3" width="7" height="2.4" fill="#111"/>
<circle cx="208" cy="261.3" r="1" fill="#111"/>
<rect x="202.5" y="264.4" width="11" height="1.8" fill="#444"/>
<!-- hinges -->
<g fill="#1a1a1a">
<rect x="177.3" y="244.6" width="6" height="5.8"/><rect x="177.3" y="264.9" width="6" height="5.8"/>
</g>
<rect x="179.5" y="246.3" width="2" height="2.4" fill="#fff"/><rect x="179.5" y="266.6" width="2" height="2.4" fill="#fff"/>
<!-- latches -->
<g class="m" style="stroke-width:1.4">
<path d="M233.2 235.2h7.6M233.2 240h7.6M235.8 233.3v8.3M238.8 233.3v8.3"/>
<path d="M233.2 275.5h7.6M233.2 281h7.6M235.8 273.4v9.8M238.8 273.4v9.8"/>
</g>
<!-- dome -->
<path class="k" d="M187.4 169.5A21 21 0 0 1 229.4 169.5" style="stroke-width:1.3"/>
<!-- neck -->
<path class="m" d="M197.5 138.5V149M219 138.5V149" style="stroke-width:1.3"/>
<path class="m" d="M201.5 140.5h14v6h-14zM208.5 140.5v6" style="stroke-width:1"/>
<!-- lower flange -->
<rect x="192" y="133.7" width="33.1" height="4.7" fill="#fff" stroke="#111" stroke-width="1.2"/><rect x="192.6" y="134.2" width="32" height="1.8" fill="#777"/>
<!-- valve lower section -->
<path class="m" d="M198.4 112.4V133.7M219.9 112.4V133.7" style="stroke-width:1"/>
<path d="M203.6 119.8h13.4" stroke="#333" stroke-width="2"/>
<path class="m" d="M203 128.5h16.5v5.2h-16.5zM213 128.5v5.2" style="stroke-width:0.9"/>
<!-- side flange -->
<rect class="m" x="220.5" y="107.6" width="3.5" height="24.4" rx="1.5" style="stroke-width:1.2"/>
<!-- valve base ring -->
<path d="M197.2 106.4H218.7V110.5Q218.7 112.2 217 112.2H199Q197.2 112.2 197.2 110.5Z" fill="#fff" stroke="#111" stroke-width="1.2"/><rect x="197.6" y="106.6" width="20.8" height="2.7" fill="#333"/>
<!-- valve body -->
<path class="m" d="M200.2 106.2V81q0-2.4 2.4-2.4h12.2q2.4 0 2.4 2.4V106.2" style="stroke-width:1.2"/>
<!-- cap -->
<path d="M209.5 76.5V72.5Q215 71 215 67.5Q215 63.8 209.5 63.3V63Q209.5 60.5 207.2 60.5Q204.9 60.5 204.9 63V76.5Z" fill="#fff" stroke="#111" stroke-width="1.2"/>
<path d="M208 63V76" stroke="#999" stroke-width="0.6"/>
<rect x="204" y="76" width="8.5" height="2.6" fill="#111"/>
<circle cx="211.9" cy="66.8" r="1.1" fill="#111"/>
<!-- cable -->
<path d="M204.9 67.5q-7.5 0.5-8.2 6.5V90" fill="none" stroke="#111" stroke-width="1.5"/>
<!-- gauge -->
<circle cx="197" cy="123.7" r="6.8" fill="#fff" stroke="#111" stroke-width="1.4"/>
<path d="M193.5 127.5L200.5 119.8" stroke="#111" stroke-width="1.2"/>
<path d="M198 130.5V164" stroke="#111" stroke-width="1.8"/>
<!-- horizontal steam pipe -->
<path class="m" d="M98.3 87.1H179.4M98.3 109H179.4M179.4 87.1V109" style="stroke-width:1.2"/>
<path class="m" d="M179.4 87.1Q193 87.5 200.5 92.4M179.4 109Q190 110 196 115.8" style="stroke-width:1.1"/>
<path class="c" d="M70 97.8H179.4Q193 98.5 199 104.5"/>
<!-- flange at pipe end -->
<g class="m" style="stroke-width:1.1">
<path d="M75.3 80.4H94.8V83H86.5L83.5 86.5L80.5 83.5Z" fill="#bbb" style="stroke-width:1"/>
<path d="M84 86.5H81.5Q80 86.5 80 88.5V107.5Q80 109.5 81.5 109.5H84"/>
<rect x="84.2" y="81" width="2.8" height="32.5" style="stroke-width:1.2"/>
<rect x="90.5" y="81" width="3.8" height="32.5" style="stroke-width:1.2"/>
<path d="M87 84H90.5M87 110.5H90.5M88.8 84V88M88.8 107V111" style="stroke-width:0.8"/>
<path d="M94.3 86.5H96.5L98.3 88.5V107.5L96.5 109.5H94.3"/>
</g>
<!-- dashed box + cable loop -->
<rect class="d" x="170.2" y="117.5" width="13.6" height="17.7" style="stroke-width:0.6;stroke:#999"/>
<path d="M177 118V135" stroke="#aaa" stroke-width="0.5" stroke-dasharray="2 1"/>
<rect x="176" y="134.5" width="2.8" height="2.5" fill="#111"/>
<path d="M177.4 136V152Q178 159 188 162.5" fill="none" stroke="#111" stroke-width="1.3"/>
<circle cx="173.3" cy="150.7" r="4.1" fill="none" stroke="#111" stroke-width="1.3"/>
</g>

<!-- ===== RIGHT BOILER (view B) ===== -->
<g id="right">
<path class="c" d="M394.7 130V334M322 245.5H455M320 258H463.5"/>
<circle class="k" cx="394.8" cy="245.5" r="79.3" style="stroke-width:1.9"/>
<circle class="m" cx="394.8" cy="257.5" r="58.8" style="stroke-width:1.2"/>
<circle class="d" cx="394.8" cy="257.5" r="56.4" style="stroke:#777;stroke-width:1;stroke-dasharray:2 1"/>
<g fill="#111">
<circle cx="394.7" cy="202" r="1.8"/><circle cx="339.3" cy="261" r="1.8"/><circle cx="450.3" cy="253.5" r="1.8"/>
<circle cx="353.5" cy="221" r="1.8"/><circle cx="435.9" cy="221" r="1.8"/>
<circle cx="353.5" cy="294.2" r="1.8"/><circle cx="435.9" cy="294.2" r="1.8"/>
<circle cx="372" cy="207" r="1.2"/><circle cx="417" cy="207" r="1.2"/>
</g>
<!-- central opening -->
<circle class="k" cx="395" cy="258.3" r="24.6" style="stroke-width:1.4"/>
<path d="M370.5 257.7H424V245.5h2.5" fill="none" stroke="#222" stroke-width="2"/><rect x="422.5" y="243.5" width="3.5" height="6" fill="#111"/>
<path class="t" d="M371.5 265.7L415.5 249.8" style="stroke:#333"/>
<text transform="translate(387.5,258.3) rotate(-20)" font-size="6" textLength="12" lengthAdjust="spacingAndGlyphs">ø500</text>
<!-- upper hatch -->
<rect class="m" x="365.3" y="211.9" width="58.7" height="17.1" style="stroke-width:1.2"/>
<rect class="d" x="367.5" y="214" width="54.3" height="13" style="stroke-width:0.5"/>
<path class="t" d="M365.3 211.9L424 229M424 211.9L365.3 229" style="stroke:#333;stroke-width:0.7"/>
<g fill="#111"><rect x="364.5" y="210.5" width="2.4" height="2.4"/><rect x="422.5" y="210.5" width="2.4" height="2.4"/><rect x="364.5" y="227.3" width="2.4" height="2.4"/><rect x="422.5" y="227.3" width="2.4" height="2.4"/><rect x="384" y="227.3" width="2" height="2.2"/><rect x="403" y="227.3" width="2" height="2.2"/><rect x="384" y="210.8" width="2" height="2.2"/><rect x="403" y="210.8" width="2" height="2.2"/></g>
<!-- lower hatch -->
<path class="m" d="M365.3 282.8H424.3V302Q394.7 309 365.3 302Z" style="stroke-width:1.2"/>
<path class="d" d="M367.5 285H422V300Q394.7 306 367.5 300Z" style="stroke-width:0.5"/>
<rect class="m" x="374.3" y="286.3" width="2.6" height="11" style="stroke-width:0.9"/>
<rect class="m" x="411.8" y="286.3" width="2.6" height="11" style="stroke-width:0.9"/>
<g fill="#111"><rect x="364.3" y="281.8" width="2.2" height="2.2"/><rect x="423" y="281.8" width="2.2" height="2.2"/><rect x="384" y="281.8" width="2" height="2"/><rect x="403" y="281.8" width="2" height="2"/><rect x="384" y="304.5" width="2" height="2"/><rect x="403" y="304.5" width="2" height="2"/></g>
<!-- peepholes -->
<g>
<circle cx="359.1" cy="249.0" r="6" fill="#b5b5b5" stroke="#111" stroke-width="1.6"/>
<path d="M355.6 252.5l7 -7M355.1 250.0l5 -5M358.1 253.0l5 -5" stroke="#f4f4f4" stroke-width="0.9"/>
<circle cx="360.6" cy="247.5" r="1.1" fill="#333"/>
<circle cx="358.8" cy="282.3" r="6" fill="#b5b5b5" stroke="#111" stroke-width="1.6"/>
<path d="M355.3 285.8l7 -7M354.8 283.3l5 -5M357.8 286.3l5 -5" stroke="#f4f4f4" stroke-width="0.9"/>
<circle cx="360.3" cy="280.8" r="1.1" fill="#333"/>
<circle cx="430.3" cy="244.0" r="6" fill="#b5b5b5" stroke="#111" stroke-width="1.6"/>
<path d="M426.8 247.5l7 -7M426.3 245.0l5 -5M429.3 248.0l5 -5" stroke="#f4f4f4" stroke-width="0.9"/>
<circle cx="431.8" cy="242.5" r="1.1" fill="#333"/>
<circle cx="430.6" cy="276.7" r="6" fill="#b5b5b5" stroke="#111" stroke-width="1.6"/>
<path d="M427.1 280.2l7 -7M426.6 277.7l5 -5M429.6 280.7l5 -5" stroke="#f4f4f4" stroke-width="0.9"/>
<circle cx="432.1" cy="275.2" r="1.1" fill="#333"/>
</g>
<!-- bottom nozzle and brackets -->
<circle cx="394.7" cy="312" r="2.6" fill="#555" stroke="#111" stroke-width="1.5"/>
<path class="m" d="M373 310.5V321.7M415.2 310.5V321.7" style="stroke-width:1.6"/>
<path class="m" d="M377 319.2h11q1.6 0 1.6 1.55t-1.6 1.55h-11q-1.6 0-1.6-1.55t1.6-1.55zM401.8 319.2h11q1.6 0 1.6 1.55t-1.6 1.55h-11q-1.6 0-1.6-1.55t1.6-1.55z" style="stroke-width:1.2"/>
<path class="m" d="M370.5 316.5h5M412.7 316.5h5" style="stroke-width:1.8"/>
<!-- support -->
<path class="m" d="M314.8 334.5L326.6 288.6M314.8 329.5H473.2M366.8 319.5V334.5M422.7 319.5V334.5M463.5 291L473.2 334.5" style="stroke-width:1.1"/>
<!-- break line + drain fitting -->
<path class="g" d="M447.8 304.5q3-8 7-12t6-3q5-1 8 2t5 6q2 6-1 9t-2 7" style="stroke:#888"/>
<path d="M455 307L468 296" stroke="#222" stroke-width="3.2"/>
<path d="M456 304.5l4 4M460.5 301l4 4M465 297l3.5 3.5" stroke="#111" stroke-width="1.3"/>
<!-- dome -->
<path class="k" d="M373.4 169.5A21.2 21.2 0 0 1 415.8 169.5" style="stroke-width:1.3"/>
<path class="m" d="M384.2 140V149M405.3 140V149" style="stroke-width:1.3"/>
<rect x="378.1" y="135.5" width="33.2" height="5.2" fill="#fff" stroke="#111" stroke-width="1.2"/><rect x="378.7" y="136" width="32" height="2" fill="#888"/>
<!-- nozzle on shell (steam takeoff) -->
<path d="M370 167.5V177" stroke="#111" stroke-width="2.2"/><circle cx="370" cy="177.8" r="1.9" fill="#111"/>
<!-- elbow -->
<path class="m" d="M384.2 135.8V126.3A39.5 39.5 0 0 1 423.7 86.8M405.2 135.8V126.3A18.5 18.5 0 0 1 423.7 107.8" style="stroke-width:1.2"/>
<path class="c" d="M394.7 135V126.3A29 29 0 0 1 423.7 97.3H540"/>
<path class="m" d="M423.7 86.8H504.4M423.7 107.8H504.4M423.7 86.8V107.8" style="stroke-width:1.2"/>
<path class="m" d="M405.2 118.5Q412.5 119 412.5 124.5Q412.5 130.5 405.2 131M384.2 126.7H405.2" style="stroke-width:1.1"/>
<rect x="384" y="107.5" width="3.5" height="4" fill="#222"/>
<!-- side flange -->
<rect class="m" x="379.5" y="108.5" width="3" height="22.3" style="stroke-width:1.1"/>
<path d="M382.5 113l3 -3" stroke="#111" stroke-width="1.5"/>
<!-- valve -->
<path class="m" d="M386.6 108V80q0-2.3 2.3-2.3h11.3q2.3 0 2.3 2.3V95" style="stroke-width:1.2"/>
<path d="M392 76V72Q388 70.5 388 67Q388 63.5 392 63V62.5Q392 60 394.8 60Q397.7 60 397.7 62.5V76Z" fill="#fff" stroke="#111" stroke-width="1.2"/>
<path d="M393.3 63V75.5" stroke="#999" stroke-width="0.6"/>
<rect x="390.5" y="75.2" width="8" height="2.6" fill="#111"/>
<circle cx="391" cy="66.8" r="1.1" fill="#111"/>
<path d="M397.7 67.5q7.5 0 8.3 6.5V91" fill="none" stroke="#111" stroke-width="1.5"/>
<!-- outlet fitting -->
<path class="m" d="M504.4 86V108M504.4 86H507.3M504.4 108H507.3" style="stroke-width:1"/>
<path d="M507.3 80.4H527.4L523 83.5V100H521V113.6H507.3Z" fill="#fff" stroke="#111" stroke-width="1.2"/>
<rect x="507.6" y="80.8" width="2.8" height="32.4" fill="#555"/>
<path d="M510.5 80.8H527L523 83.5H510.5Z" fill="#666"/>
<path d="M513 84L519 95M519 84L513 95" stroke="#222" stroke-width="0.8"/>
<path class="m" d="M511 84.5V94M519.8 84.5V94M511 89.3H519.8M512.5 101V113M518.5 101V113M512.5 106.5H518.5" style="stroke-width:1.1"/>
<path d="M517.5 86V94" stroke="#222" stroke-width="2.2"/>
<circle cx="512.2" cy="97" r="4.4" fill="#fff" stroke="#111" stroke-width="1.3"/>
<circle cx="512.2" cy="97" r="2" fill="none" stroke="#333" stroke-width="0.8"/>
<path d="M503.5 97H523" stroke="#111" stroke-width="1.5"/>
<!-- dashed box + cable loop -->
<rect class="d" x="419.5" y="118" width="12.3" height="16.5" style="stroke-width:0.6;stroke:#999"/>
<path d="M425.6 118.5V134" stroke="#aaa" stroke-width="0.5" stroke-dasharray="2 1"/>
<rect x="424.2" y="134" width="2.8" height="2.5" fill="#111"/>
<path d="M425.6 136V152Q425.6 156 422 160" fill="none" stroke="#111" stroke-width="1.3"/>
<circle cx="429.8" cy="150" r="4.2" fill="none" stroke="#111" stroke-width="1.3"/>
</g>
<!-- right water gauge -->
<g id="rgauge">
<path class="m" d="M415.6 159.8H491.5M415.6 165.4H491.5" style="stroke-width:0.9"/>
<path class="c" d="M416 162.5H491"/>
<path class="m" d="M422.2 171.1H484.5M429.9 174.4H484.5M457.0 196.3H484.5M458.9 198.8H484.5M467.3 213.4H491.5M468.4 215.9H491.5" style="stroke-width:0.9"/>
<rect class="k" x="491.5" y="158.7" width="8" height="59.7" style="stroke-width:1.2"/>
<path class="m" d="M491.5 166.5H499.5M494.5 166.5V202M497 166.5V202M491.5 212H499.5" style="stroke-width:0.7"/>
<circle cx="495.5" cy="206.6" r="2.8" fill="#444" stroke="#111" stroke-width="0.9"/>
<g fill="#222">
<rect x="483.6" y="167.4" width="6.8" height="10.4" rx="3"/><rect x="483.6" y="191" width="6.8" height="10.4" rx="3"/>
<rect x="507.8" y="162.2" width="6.2" height="10.4" rx="3"/><rect x="507.8" y="204.9" width="6.2" height="10.4" rx="3"/>
</g>
<path class="m" d="M499.5 167.4H516.5M499.5 211H516.5M516.3 167.4V177.3M516.3 199.7V211" style="stroke-width:1"/>
<rect class="m" x="513.2" y="177.3" width="7.4" height="22.4" style="stroke-width:1"/>
<path d="M519.6 178.3V199" stroke="#444" stroke-width="1.6" stroke-dasharray="1 0.8"/>
</g>

<!-- ===== LEFT water gauge column ===== -->
<g id="lgauge">
<path class="m" d="M112 159.6H187.5M112 165.2H187.5" style="stroke-width:0.9"/>
<path class="c" d="M112 162.4H187"/>
<path class="m" d="M118 171.7H179.3M118 175H172.0M118 195H147.2M118 197.8H145.0M112 214H135.5M112 216.8H134.4" style="stroke-width:0.9"/>
<rect class="k" x="102.2" y="158" width="9.6" height="60" style="stroke-width:1.2"/>
<rect x="104.3" y="176" width="5.4" height="29" fill="#555"/>
<path d="M105.5 177V204M108.5 177V204" stroke="#bbb" stroke-width="0.7" stroke-dasharray="1 1"/>
<circle class="m" cx="107" cy="167.4" r="3.6"/><path class="m" d="M104.5 165l5 5M109.5 165l-5 5" style="stroke-width:0.7"/>
<circle class="m" cx="107" cy="210.2" r="3.6"/><path class="m" d="M104.5 207.7l5 5M109.5 207.7l-5 5" style="stroke-width:0.7"/>
<g fill="#222">
<rect x="112.4" y="167.2" width="6.6" height="10.4" rx="3"/><rect x="112.4" y="191" width="6.6" height="10.4" rx="3"/>
<rect x="88.8" y="162.2" width="6.2" height="10.4" rx="3"/><rect x="88.8" y="205.8" width="6.2" height="10.4" rx="3"/>
</g>
<path class="m" d="M85.5 167.4H102.2M85.5 211H102.2M86.3 167.4V177M86.3 205.8V211" style="stroke-width:1"/>
<rect class="m" x="82.2" y="177" width="6.8" height="28.8" style="stroke-width:1"/>
<path d="M83.3 178V205" stroke="#444" stroke-width="1.6" stroke-dasharray="1 0.8"/>
</g>
<!-- left support -->
<g id="lsupport">
<path class="m" d="M129 334.5L135.8 301.5M129 329.8H287.3M180.7 319.5V334.5M236 319.5V334.5M277.3 288.5L287.3 334.5" style="stroke-width:1.1"/>
<path d="M134.6 297.4L146.8 308.4" stroke="#111" stroke-width="3.6" stroke-linecap="round"/>
<path d="M135.4 297.9L146 307.6" stroke="#fff" stroke-width="1.3"/>
<path class="m" d="M135.8 295.5Q139 294 140.2 288.6" style="stroke-width:1.4"/>
<g fill="#888"><circle cx="143.3" cy="300" r="1.1"/><circle cx="148.6" cy="305" r="1.1"/><circle cx="139.7" cy="304" r="1.1"/><circle cx="145.4" cy="309" r="1.1"/></g>
</g>
<!-- ground -->
<path class="m" d="M64 334.5H605" style="stroke-width:1"/>
<!-- extension / dimension lines -->
<g class="t">
<path d="M82.6 205.8V390M92.6 216V371M129 336V356M287.3 262V390"/>
<path d="M129 352.8H287.3M92.6 368H287.3M82.6 387H287.3"/>
<path d="M80.8 47V80M207.3 46V61M80.8 46.8H207.3"/>
</g>
<g fill="#222">
<path d="M129 352.8l5 -0.9v1.8zM287.3 352.8l-5 -0.9v1.8zM92.6 368l5 -0.9v1.8zM287.3 368l-5 -0.9v1.8zM82.6 387l5 -0.9v1.8zM287.3 387l-5 -0.9v1.8zM80.8 46.8l5 -0.9v1.8zM207.3 46.8l-5 -0.9v1.8z"/>
</g>
<g font-size="7" fill="#333">
<text x="208.1" y="351" font-size="6.4" text-anchor="middle" textLength="11" lengthAdjust="spacingAndGlyphs">ø1646</text>
<text x="190" y="366.2" font-size="8" text-anchor="middle" textLength="10" lengthAdjust="spacingAndGlyphs">2025</text>
<text x="185.2" y="384.8" font-size="7.3" text-anchor="middle" textLength="9.3" lengthAdjust="spacingAndGlyphs">2125</text>
<text x="144.5" y="44.8" font-size="7" text-anchor="middle" textLength="9.3" lengthAdjust="spacingAndGlyphs">1350</text>
</g>
<g font-size="9" fill="#222" font-weight="bold">
<text x="183.8" y="24.8" font-size="9.5" textLength="5.6" lengthAdjust="spacingAndGlyphs">А</text>
<text x="190.5" y="26" font-size="3.5" font-weight="normal">(2)</text>
<text x="182.3" y="37.3" font-size="8.5" textLength="14.6" lengthAdjust="spacingAndGlyphs">(1:15)</text>
<text x="433.8" y="28" font-size="9.5" textLength="5.4" lengthAdjust="spacingAndGlyphs">Б</text>
<text x="440.3" y="28" font-size="3.5" font-weight="normal">(2)</text>
<text x="431.5" y="39.7" font-size="8.5" textLength="13.9" lengthAdjust="spacingAndGlyphs">(1:15)</text>
</g>

<!-- hatch -->
<path class="m" style="stroke-width:1.1" d="M99.2 341.8L104.8 334.8M103.6 341.8L109.2 334.8M108.0 341.8L113.6 334.8M112.4 341.8L118.0 334.8M116.8 341.8L122.4 334.8M121.2 341.8L126.8 334.8M125.6 341.8L131.2 334.8M130.0 341.8L135.6 334.8M134.4 341.8L140.0 334.8M138.8 341.8L144.4 334.8M143.2 341.8L148.8 334.8M147.6 341.8L153.2 334.8M152.0 341.8L157.6 334.8M156.4 341.8L162.0 334.8M160.8 341.8L166.4 334.8M165.2 341.8L170.8 334.8M169.6 341.8L175.2 334.8M174.0 341.8L179.6 334.8M178.4 341.8L184.0 334.8M182.8 341.8L188.4 334.8M187.2 341.8L192.8 334.8M191.6 341.8L197.2 334.8M196.0 341.8L201.6 334.8M200.4 341.8L206.0 334.8M204.8 341.8L210.4 334.8M209.2 341.8L214.8 334.8M213.6 341.8L219.2 334.8M218.0 341.8L223.6 334.8M222.4 341.8L228.0 334.8M226.8 341.8L232.4 334.8M231.2 341.8L236.8 334.8M235.6 341.8L241.2 334.8M240.0 341.8L245.6 334.8M244.4 341.8L250.0 334.8M248.8 341.8L254.4 334.8M253.2 341.8L258.8 334.8M257.6 341.8L263.2 334.8M262.0 341.8L267.6 334.8M266.4 341.8L272.0 334.8M270.8 341.8L276.4 334.8M275.2 341.8L280.8 334.8M279.6 341.8L285.2 334.8M284.0 341.8L289.6 334.8M288.4 341.8L294.0 334.8M292.8 341.8L298.4 334.8M297.2 341.8L302.8 334.8M301.6 341.8L307.2 334.8M314.8 341.8L320.4 334.8M319.2 341.8L324.8 334.8M323.6 341.8L329.2 334.8M328.0 341.8L333.6 334.8M332.4 341.8L338.0 334.8M336.8 341.8L342.4 334.8M341.2 341.8L346.8 334.8M345.6 341.8L351.2 334.8M350.0 341.8L355.6 334.8M354.4 341.8L360.0 334.8M358.8 341.8L364.4 334.8M363.2 341.8L368.8 334.8M367.6 341.8L373.2 334.8M372.0 341.8L377.6 334.8M376.4 341.8L382.0 334.8M380.8 341.8L386.4 334.8M385.2 341.8L390.8 334.8M389.6 341.8L395.2 334.8M394.0 341.8L399.6 334.8M398.4 341.8L404.0 334.8M402.8 341.8L408.4 334.8M407.2 341.8L412.8 334.8M411.6 341.8L417.2 334.8M416.0 341.8L421.6 334.8M420.4 341.8L426.0 334.8M424.8 341.8L430.4 334.8M429.2 341.8L434.8 334.8M433.6 341.8L439.2 334.8M438.0 341.8L443.6 334.8M442.4 341.8L448.0 334.8M446.8 341.8L452.4 334.8M451.2 341.8L456.8 334.8M455.6 341.8L461.2 334.8M460.0 341.8L465.6 334.8M464.4 341.8L470.0 334.8M468.8 341.8L474.4 334.8M473.2 341.8L478.8 334.8M477.6 341.8L483.2 334.8M482.0 341.8L487.6 334.8M486.4 341.8L492.0 334.8M490.8 341.8L496.4 334.8M495.2 341.8L500.8 334.8M499.6 341.8L505.2 334.8M504.0 341.8L509.6 334.8M508.4 341.8L514.0 334.8M512.8 341.8L518.4 334.8M517.2 341.8L522.8 334.8M521.6 341.8L527.2 334.8M526.0 341.8L531.6 334.8M530.4 341.8L536.0 334.8M534.8 341.8L540.4 334.8M539.2 341.8L544.8 334.8M543.6 341.8L549.2 334.8M548.0 341.8L553.6 334.8M552.4 341.8L558.0 334.8M556.8 341.8L562.4 334.8M561.2 341.8L566.8 334.8M565.6 341.8L571.2 334.8M570.0 341.8L575.6 334.8M574.4 341.8L580.0 334.8M578.8 341.8L584.4 334.8M583.2 341.8L588.8 334.8M587.6 341.8L593.2 334.8M592.0 341.8L597.6 334.8M596.4 341.8L602.0 334.8"/>
<!-- pump assembly -->
<g id="pump">
<path class="m" d="M467.5 255.4H555.5L558.5 259.4H467.5Q465.5 259.4 465.5 257.4Q465.5 255.4 467.5 255.4Z" style="stroke-width:1"/>
<path class="m" d="M513.5 259.4V318.3Q513.5 327.5 522.5 327.5H559.6M517.7 259.4V318.3Q517.7 323.3 522.5 323.3H559.6" style="stroke-width:1"/>
<rect class="m" x="511.8" y="264" width="7.6" height="9" style="stroke-width:1.2"/>
<path class="m" d="M519.4 268.6H525.2M525.2 263.5V273.5" style="stroke-width:1.3"/>
<path class="m" d="M517.7 285.7H529M517.7 289.7H529" style="stroke-width:1"/>
<rect class="m" x="528.5" y="284.5" width="5" height="6.5" style="stroke-width:1.2"/>
<path class="m" d="M531 284.5V280M527 280H535" style="stroke-width:1.3"/>
<rect class="m" x="512" y="298" width="7.2" height="6" style="stroke-width:1.1"/>
<circle cx="491.1" cy="284.2" r="7.4" fill="#fff" stroke="#111" stroke-width="1.3"/>
<path d="M487.5 288L494.8 280.2" stroke="#111" stroke-width="1.1"/>
<path class="m" d="M491.1 291.6V296M489.8 296V305Q489.8 311 495.8 311H513.5M492.4 296V305Q492.4 308.4 495.8 308.4H513.5" style="stroke-width:1.1"/>
<rect x="489" y="291.5" width="4.2" height="2.2" fill="#111"/>
<!-- motor -->
<path class="k" d="M564.3 298V280Q564.3 276.3 568 276.3H580.3Q584 276.3 584 280V298Z" style="stroke-width:1.1"/>
<path class="m" d="M568 277V297M572 277V297M576 277V297M580 277V297" style="stroke-width:0.7"/>
<rect class="m" x="584" y="285" width="4.6" height="7.9" style="stroke-width:1"/>
<path class="m" d="M565.5 298Q566.5 300.5 568 300.5H580Q581.5 300.5 582.5 298" style="stroke-width:0.9"/>
<rect class="m" x="566.6" y="300.5" width="14.8" height="31.5" style="stroke-width:1.1"/>
<path class="m" d="M566.6 308.5H581.4M569.5 308.5V332M578.5 308.5V332M574 313V332M566.6 315H581.4" style="stroke-width:0.7"/>
<rect class="m" x="559.6" y="319.9" width="4.4" height="12.1" style="stroke-width:1.1"/>
<rect class="m" x="584" y="319.9" width="4.3" height="12.1" style="stroke-width:1.1"/>
<path class="m" d="M588.3 324.2H597M588.3 326.8H599.5L597 324.2" style="stroke-width:0.9"/>
</g>
<!-- texts & leaders -->
<g id="labels" fill="#111">
<text x="527.3" y="91.3" font-size="9.6" textLength="26.6" lengthAdjust="spacingAndGlyphs">Выход</text><text x="558.3" y="91.3" font-size="9.6" textLength="21.3" lengthAdjust="spacingAndGlyphs">пара</text>
<path d="M532.8 98.9H550" stroke="#222" stroke-width="0.8"/><path d="M556 98.9l-7 -1.6v3.2z"/>
<path d="M571.7 98.4H594.6M590 91.3V98.2M586.4 94.6L590 98.4L593.6 94.6M590 91.3H611" stroke="#222" stroke-width="0.8" fill="none"/>
<text x="592" y="90" font-size="6.5" textLength="19" lengthAdjust="spacingAndGlyphs">+2,500</text>
<text x="546.5" y="183" font-size="9">В</text><text x="553" y="184" font-size="4">(1)</text>
<path d="M559 185.4H535" stroke="#222" stroke-width="0.8"/><path d="M529.4 185.4l7 -1.6v3.2z"/>
<text x="492" y="232.8" font-size="7" textLength="38.6" lengthAdjust="spacingAndGlyphs">Клапан Взрывной</text>
<path class="t" d="M434.8 219.6L490 234.5H531" style="stroke:#333"/>
<text x="558" y="244.5" font-size="7" textLength="43.8" lengthAdjust="spacingAndGlyphs">Линия подключения</text>
<text x="562" y="254" font-size="7" textLength="34.8" lengthAdjust="spacingAndGlyphs">второго насоса</text>
<path class="t" d="M537 255.4L553 246.3H609" style="stroke:#333"/>
<text x="318.8" y="138.8" font-size="7" textLength="33.2" lengthAdjust="spacingAndGlyphs">Отвод пара на</text>
<text x="314.2" y="146.6" font-size="7" textLength="42.4" lengthAdjust="spacingAndGlyphs">собственные нужды</text>
<path class="t" d="M314.7 140.1H362.2L370 170" style="stroke:#333"/>
<text x="283" y="187.6" font-size="7" textLength="42" lengthAdjust="spacingAndGlyphs">Лючки для обдувки</text>
<path class="t" d="M283 189H329.5L433.8 221.7M329.5 189L425 242M329.5 189L427 272.5M329.5 189L355.5 244M329.5 189L357 277.5" style="stroke:#333"/>
<text x="338.2" y="348" font-size="7.5" textLength="9.5" lengthAdjust="spacingAndGlyphs">Слив</text>
<path class="t" d="M336 348.9H348.7L372 318" style="stroke:#333"/>
<text x="433" y="346.5" font-size="7.5" textLength="20" lengthAdjust="spacingAndGlyphs">Продувка</text>
<path class="t" d="M458 348.5H432L415.8 313.5" style="stroke:#333"/>
<text x="301.2" y="375.4" font-size="7.6" textLength="56.5" lengthAdjust="spacingAndGlyphs">Штуцер для слива шлама</text>
<text x="315.8" y="383.8" font-size="7.6" textLength="27.2" lengthAdjust="spacingAndGlyphs">при обдувке</text>
<path class="t" d="M297.7 377.5H357L394.7 314" style="stroke:#333"/>
</g>


</svg>
</body></html>
